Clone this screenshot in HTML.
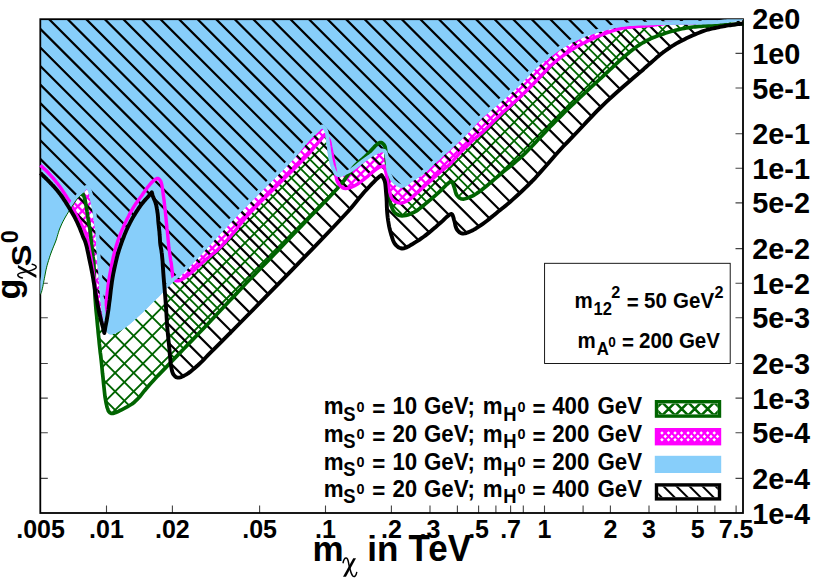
<!DOCTYPE html>
<html><head><meta charset="utf-8"><title>chart</title>
<style>html,body{margin:0;padding:0;background:#fff;}svg{display:block;}</style></head>
<body>
<svg width="830" height="581" viewBox="0 0 830 581" font-family="'Liberation Sans', sans-serif" font-weight="bold">
<rect x="0" y="0" width="830" height="581" fill="#fff"/>
<defs>
<clipPath id="cg"><polygon points="40.3,294.5 40.5,294.1 40.7,293.7 40.9,293.4 41.1,293.0 41.3,292.5 41.5,292.0 41.9,290.6 42.3,288.8 42.8,286.7 43.2,284.6 43.6,282.4 44.0,280.3 44.4,278.3 44.8,276.2 45.2,274.1 45.6,272.0 46.0,269.9 46.5,267.8 47.1,265.4 47.8,262.9 48.6,260.4 49.4,257.8 50.2,255.4 51.0,253.0 51.8,250.9 52.6,248.9 53.4,246.9 54.2,245.0 55.0,243.0 55.8,241.0 56.5,238.9 57.2,236.7 57.8,234.5 58.5,232.3 59.2,230.1 60.0,228.0 60.9,225.9 61.8,223.9 62.8,221.8 63.9,219.8 64.9,217.9 66.0,216.0 67.0,214.3 68.0,212.7 69.0,211.1 70.0,209.6 71.0,208.0 72.0,206.5 73.0,205.0 74.0,203.5 75.0,202.0 76.0,200.6 77.0,199.2 78.0,198.0 78.8,197.1 79.6,196.4 80.4,195.6 81.2,194.9 82.0,194.2 82.8,193.5 83.1,194.2 83.4,194.9 83.7,195.6 84.0,196.4 84.2,197.1 84.5,198.0 84.9,199.4 85.2,201.0 85.6,202.7 85.9,204.5 86.2,206.3 86.5,208.0 86.8,209.7 87.0,211.3 87.3,212.9 87.5,214.6 87.7,216.3 88.0,218.0 88.3,219.9 88.7,221.8 89.0,223.8 89.3,225.8 89.7,227.8 90.0,230.0 90.4,232.8 90.7,235.7 91.0,238.8 91.4,241.9 91.7,245.0 92.0,248.0 92.3,250.8 92.7,253.6 93.0,256.4 93.4,259.2 93.7,262.1 93.9,265.0 94.1,268.3 94.2,271.7 94.3,275.1 94.3,278.5 94.4,281.9 94.5,285.0 94.6,287.4 94.7,289.7 94.8,291.9 94.9,294.1 95.0,296.4 95.2,299.0 95.5,302.9 95.8,307.2 96.2,311.6 96.7,316.2 97.1,320.7 97.5,325.0 97.9,328.8 98.2,332.6 98.6,336.3 99.0,340.0 99.3,343.5 99.7,347.0 100.0,349.9 100.3,352.7 100.7,355.5 101.0,358.2 101.3,361.0 101.6,363.8 101.9,366.9 102.2,370.1 102.5,373.3 102.9,376.5 103.2,379.6 103.5,382.7 103.8,385.5 104.1,388.4 104.4,391.2 104.7,394.0 105.0,396.6 105.4,399.0 105.7,400.7 106.0,402.3 106.3,403.8 106.6,405.2 106.9,406.6 107.3,407.8 107.6,408.6 107.8,409.4 108.1,410.2 108.4,410.9 108.8,411.5 109.2,412.0 109.6,412.4 109.9,412.7 110.4,413.0 110.8,413.2 111.2,413.4 111.7,413.5 112.2,413.5 112.7,413.5 113.3,413.4 113.8,413.2 114.4,413.0 115.0,412.8 115.8,412.5 116.7,412.2 117.5,411.8 118.5,411.3 119.4,410.8 120.5,410.3 122.5,409.3 124.7,408.2 127.1,406.9 129.5,405.5 132.0,404.0 134.3,402.2 136.9,399.7 139.5,397.0 142.0,393.9 144.5,390.7 147.2,387.5 150.0,384.2 153.7,380.2 157.5,376.1 161.6,371.9 165.7,367.6 169.9,363.3 174.1,358.9 178.7,354.1 183.4,349.3 188.1,344.4 193.0,339.4 197.9,334.3 203.0,329.0 209.2,322.5 215.7,315.6 222.3,308.6 228.9,301.5 235.5,294.6 241.7,288.0 246.8,282.6 251.8,277.5 256.6,272.5 261.4,267.5 266.4,262.4 271.7,256.9 278.8,249.6 286.5,241.5 294.4,233.3 302.2,225.2 309.3,217.8 315.4,211.5 318.4,208.4 321.1,205.6 323.6,203.0 326.0,200.6 328.3,198.2 330.6,195.7 332.7,193.5 334.7,191.3 336.7,189.2 338.6,187.1 340.5,184.9 342.4,182.6 344.3,180.1 346.2,177.4 348.0,174.7 349.9,172.1 351.8,169.5 353.8,167.0 355.9,164.8 358.2,162.7 360.5,160.6 362.8,158.7 365.1,156.7 367.2,154.7 369.0,152.8 370.8,150.8 372.6,148.8 374.3,146.9 375.9,145.3 377.3,144.1 378.0,143.6 378.6,143.2 379.2,142.9 379.8,142.6 380.4,142.5 381.0,142.5 381.6,142.7 382.3,143.1 382.9,143.6 383.5,144.2 384.0,144.8 384.5,145.5 384.9,146.4 385.2,147.4 385.4,148.5 385.5,149.6 385.7,150.8 385.8,152.0 385.9,153.3 386.1,154.7 386.1,156.0 386.2,157.5 386.3,159.0 386.4,160.6 386.6,163.1 386.9,165.9 387.2,168.8 387.4,171.7 387.7,174.7 387.9,177.5 388.0,180.0 388.1,182.5 388.1,185.0 388.2,187.4 388.3,189.8 388.5,192.2 388.8,194.5 389.1,196.9 389.5,199.2 389.9,201.5 390.5,203.6 391.1,205.6 391.7,207.1 392.2,208.5 392.9,209.9 393.6,211.1 394.4,212.3 395.3,213.2 396.2,213.9 397.3,214.5 398.4,215.0 399.5,215.4 400.7,215.7 402.0,215.8 403.8,215.7 405.7,215.4 407.7,214.9 409.8,214.2 411.8,213.3 413.8,212.4 416.1,211.1 418.3,209.6 420.6,207.8 422.8,206.0 425.1,204.1 427.3,202.3 429.6,200.4 432.0,198.4 434.3,196.3 436.6,194.3 438.8,192.3 440.8,190.5 442.2,189.2 443.5,187.8 444.8,186.5 446.0,185.3 447.1,184.2 448.2,183.3 448.8,182.8 449.4,182.4 450.0,181.9 450.5,181.6 451.0,181.5 451.5,181.5 452.1,181.9 452.5,182.7 453.0,183.8 453.4,184.9 453.8,186.2 454.2,187.3 454.6,188.6 455.0,189.9 455.3,191.3 455.7,192.7 456.2,194.0 456.8,195.1 457.5,196.0 458.2,196.8 459.0,197.6 459.8,198.2 460.8,198.7 461.8,199.0 463.3,199.1 465.0,198.8 466.8,198.3 468.6,197.6 470.5,196.8 472.3,196.0 474.3,195.0 476.3,193.7 478.2,192.4 480.2,190.9 482.2,189.4 484.3,187.8 486.8,185.8 489.3,183.7 491.9,181.5 494.6,179.2 497.3,176.8 500.0,174.5 503.2,171.8 506.7,169.1 510.1,166.3 513.6,163.5 516.9,160.7 520.0,158.0 522.4,155.8 524.7,153.6 526.9,151.4 529.0,149.2 531.2,147.0 533.4,144.7 535.8,142.2 538.2,139.6 540.6,137.1 543.0,134.4 545.4,131.9 547.8,129.3 550.2,126.8 552.6,124.4 554.9,122.0 557.3,119.5 559.8,117.1 562.3,114.6 565.1,111.8 568.0,109.0 570.9,106.1 573.9,103.3 577.0,100.4 580.0,97.5 583.3,94.4 586.8,91.1 590.3,87.9 593.8,84.7 597.1,81.7 600.0,79.0 601.9,77.3 603.6,75.6 605.2,74.1 606.8,72.6 608.4,71.1 610.0,69.6 611.7,68.1 613.3,66.5 615.0,65.0 616.7,63.4 618.3,61.9 620.0,60.4 621.7,58.9 623.3,57.5 625.0,56.0 626.6,54.6 628.3,53.2 630.0,51.8 631.6,50.5 633.3,49.2 635.0,48.0 636.6,46.8 638.3,45.6 640.0,44.5 641.6,43.5 643.3,42.5 645.0,41.6 646.6,40.7 648.3,39.8 650.0,39.0 651.6,38.2 653.3,37.5 655.0,36.9 656.6,36.2 658.3,35.6 660.0,35.0 661.7,34.4 663.3,33.9 665.0,33.3 666.7,32.8 668.3,32.3 670.0,31.8 671.6,31.3 673.3,30.9 674.9,30.4 676.6,30.0 678.3,29.6 680.0,29.2 682.1,28.8 684.2,28.4 686.4,28.0 688.6,27.6 690.8,27.3 693.0,27.0 695.0,26.8 697.1,26.6 699.1,26.4 701.1,26.3 703.1,26.1 705.0,26.0 706.7,25.9 708.3,25.8 709.9,25.7 711.6,25.7 713.2,25.6 715.0,25.5 717.3,25.4 719.8,25.2 722.4,25.1 725.0,24.9 727.5,24.8 730.0,24.6 732.3,24.4 734.5,24.3 736.7,24.1 739.0,23.9 741.2,23.8 743.4,23.6 743.0,19.2 40.3,19.2"/></clipPath>
<clipPath id="cm"><polygon points="40.4,165.3 41.7,166.5 43.0,167.7 44.2,168.9 45.5,170.0 46.8,171.3 48.0,172.5 49.2,173.8 50.4,175.1 51.6,176.5 52.8,177.8 54.0,179.2 55.1,180.6 56.2,182.0 57.3,183.3 58.4,184.7 59.4,186.1 60.5,187.6 61.5,189.0 62.6,190.6 63.7,192.3 64.8,194.0 65.9,195.6 66.8,197.2 67.7,198.5 68.1,199.2 68.5,199.7 68.9,200.3 69.2,200.8 69.6,201.3 70.0,202.0 70.6,203.1 71.2,204.4 71.9,205.7 72.6,207.1 73.3,208.5 74.0,210.0 74.9,211.9 75.9,213.9 76.9,215.9 78.0,218.0 79.0,220.0 80.0,222.0 80.9,223.7 81.8,225.2 82.8,226.8 83.7,228.4 84.5,230.1 85.3,232.0 86.3,235.1 87.2,238.6 88.0,242.4 88.8,246.2 89.5,250.2 90.2,254.0 90.9,257.9 91.6,262.0 92.3,266.0 92.9,270.0 93.5,274.0 94.1,278.0 94.6,281.7 95.1,285.3 95.5,289.0 96.0,292.6 96.6,296.2 97.2,300.0 98.1,304.2 99.0,308.5 100.1,312.9 101.2,317.3 102.3,321.6 103.3,326.0 103.8,321.6 104.3,317.2 104.9,312.9 105.4,308.5 105.9,304.2 106.4,300.0 106.8,296.3 107.3,292.6 107.7,289.0 108.1,285.5 108.6,281.9 109.2,278.2 109.9,274.1 110.7,269.9 111.5,265.6 112.4,261.4 113.2,257.5 114.0,254.1 114.5,252.2 114.9,250.4 115.4,248.8 115.8,247.2 116.3,245.6 116.8,244.0 117.4,242.2 118.0,240.3 118.7,238.5 119.4,236.6 120.1,234.8 120.8,233.0 121.5,231.3 122.2,229.6 123.0,227.9 123.7,226.2 124.5,224.5 125.3,222.8 126.1,221.1 126.9,219.4 127.8,217.7 128.7,216.0 129.5,214.3 130.4,212.7 131.2,211.2 132.0,209.8 132.8,208.5 133.6,207.1 134.5,205.7 135.4,204.3 136.5,202.8 137.6,201.2 138.7,199.6 139.9,198.1 141.1,196.5 142.2,195.0 143.2,193.5 144.2,192.1 145.2,190.6 146.2,189.2 147.2,187.8 148.2,186.5 149.2,185.3 150.2,184.1 151.2,183.0 152.2,181.9 153.2,181.0 154.2,180.2 154.8,179.7 155.5,179.3 156.1,178.9 156.7,178.6 157.2,178.4 157.8,178.4 158.4,178.6 158.9,178.9 159.4,179.4 159.9,180.0 160.4,180.7 160.8,181.4 161.4,183.1 161.9,185.2 162.3,187.6 162.7,190.1 163.0,192.6 163.3,195.0 163.6,197.1 163.9,199.2 164.2,201.3 164.4,203.3 164.6,205.5 164.9,207.7 165.2,210.4 165.5,213.2 165.8,216.1 166.1,219.0 166.3,221.8 166.6,224.5 166.8,226.7 167.0,228.9 167.3,231.0 167.5,233.0 167.7,235.1 167.9,237.2 168.1,239.3 168.3,241.4 168.5,243.5 168.7,245.6 168.9,247.8 169.2,250.0 169.6,252.6 170.0,255.4 170.4,258.2 170.8,261.0 171.3,263.6 171.6,266.1 171.8,268.0 172.0,269.8 172.1,271.5 172.3,273.2 172.4,274.7 172.7,276.0 172.9,276.7 173.0,277.3 173.2,277.9 173.4,278.4 173.7,278.9 174.0,279.3 174.3,279.7 174.7,280.0 175.1,280.2 175.6,280.5 176.0,280.7 176.5,280.8 177.0,280.9 177.4,280.9 177.9,280.9 178.4,280.8 179.0,280.7 179.5,280.5 180.3,280.2 181.1,279.9 181.9,279.4 182.7,278.9 183.6,278.4 184.5,277.8 185.8,276.9 187.2,275.8 188.7,274.7 190.1,273.5 191.6,272.3 193.0,271.1 194.4,269.9 195.8,268.6 197.2,267.3 198.6,266.0 200.0,264.8 201.4,263.5 202.8,262.3 204.2,261.1 205.6,259.8 207.0,258.6 208.4,257.5 209.8,256.3 211.1,255.3 212.3,254.3 213.5,253.3 214.8,252.3 216.1,251.2 217.4,250.0 219.4,248.1 221.4,246.1 223.6,243.8 225.8,241.5 228.0,239.0 230.3,236.5 233.2,233.1 236.1,229.5 239.1,225.8 242.2,221.9 245.5,217.9 248.9,214.0 253.3,209.3 258.0,204.5 262.9,199.6 267.9,194.7 272.9,189.8 277.8,184.9 282.7,180.0 287.7,175.1 292.7,170.2 297.6,165.4 302.3,160.6 306.7,156.0 310.0,152.3 313.1,148.7 316.1,145.1 319.0,141.6 321.8,138.1 324.8,134.5 325.5,135.3 326.2,136.1 327.0,136.8 327.7,137.6 328.3,138.5 328.9,139.5 329.5,141.0 330.0,142.7 330.3,144.5 330.6,146.3 331.0,148.2 331.3,150.0 331.7,151.7 332.0,153.3 332.3,155.0 332.7,156.7 333.0,158.3 333.3,160.0 333.6,161.7 333.9,163.3 334.2,164.9 334.5,166.6 334.9,168.3 335.2,170.0 335.5,172.0 335.8,174.1 336.0,176.2 336.4,178.3 336.9,180.3 337.6,182.0 338.4,183.4 339.4,184.7 340.4,186.0 341.6,187.0 342.8,187.9 344.1,188.4 345.6,188.6 347.3,188.4 349.0,188.0 350.8,187.4 352.5,186.6 354.2,185.9 355.9,185.0 357.6,184.0 359.3,182.8 361.0,181.6 362.6,180.4 364.3,179.1 366.0,177.7 367.8,176.3 369.5,174.8 371.2,173.3 372.9,171.9 374.4,170.7 375.4,169.9 376.4,169.2 377.4,168.5 378.3,167.9 379.2,167.3 380.1,166.9 380.8,166.6 381.5,166.5 382.2,166.3 382.9,166.2 383.6,166.1 384.3,166.0 384.7,167.8 385.2,169.6 385.6,171.4 386.1,173.2 386.5,175.1 386.9,177.0 387.3,179.2 387.7,181.5 388.1,183.8 388.5,186.2 388.9,188.4 389.4,190.5 389.8,192.2 390.3,193.9 390.7,195.6 391.3,197.1 391.9,198.5 392.8,199.7 393.8,200.6 394.9,201.4 396.2,202.1 397.5,202.6 398.8,202.9 400.1,203.1 401.4,203.0 402.6,202.8 403.9,202.4 405.2,201.8 406.4,201.2 407.7,200.5 409.1,199.6 410.5,198.6 411.9,197.4 413.3,196.2 414.7,194.9 416.1,193.7 417.5,192.5 418.9,191.2 420.3,189.9 421.7,188.6 423.1,187.4 424.5,186.1 425.9,184.8 427.3,183.6 428.8,182.3 430.2,181.1 431.6,179.9 433.0,178.6 434.4,177.3 435.8,176.1 437.2,174.8 438.6,173.5 440.0,172.2 441.4,171.0 442.8,169.9 444.2,168.8 445.6,167.7 447.0,166.6 448.4,165.5 449.8,164.2 451.5,162.5 453.2,160.6 454.9,158.7 456.6,156.7 458.4,154.7 460.2,152.7 462.1,150.7 464.1,148.7 466.2,146.7 468.2,144.7 470.2,142.7 472.3,140.8 474.3,139.0 476.2,137.4 478.2,135.7 480.2,134.1 482.2,132.4 484.3,130.5 486.8,128.1 489.3,125.6 491.9,123.0 494.5,120.4 497.2,117.7 500.0,115.0 503.2,112.1 506.5,109.1 509.9,106.2 513.3,103.1 516.7,100.1 520.0,97.0 523.4,93.7 527.0,90.2 530.5,86.7 533.9,83.3 537.1,80.0 540.0,77.0 541.9,75.0 543.6,73.2 545.2,71.5 546.8,69.8 548.3,68.1 550.0,66.5 551.6,65.0 553.3,63.5 554.9,62.1 556.6,60.7 558.3,59.3 560.0,58.0 561.6,56.8 563.3,55.5 565.0,54.4 566.6,53.2 568.3,52.1 570.0,51.0 571.7,49.9 573.3,48.9 575.0,47.9 576.6,46.9 578.3,45.9 580.0,45.0 581.7,44.1 583.3,43.3 585.0,42.4 586.7,41.6 588.3,40.8 590.0,40.0 591.7,39.2 593.3,38.4 595.0,37.7 596.7,36.9 598.3,36.2 600.0,35.5 601.7,34.8 603.3,34.2 605.0,33.6 606.7,33.0 608.3,32.4 610.0,31.8 611.7,31.2 613.3,30.7 615.0,30.2 616.7,29.7 618.3,29.2 620.0,28.8 621.7,28.4 623.3,28.1 625.0,27.9 626.7,27.6 628.3,27.4 630.0,27.2 631.7,27.0 633.3,26.8 635.0,26.7 636.7,26.6 638.3,26.4 640.0,26.3 641.7,26.2 643.3,26.1 645.0,26.0 646.7,25.9 648.3,25.8 650.0,25.6 651.7,25.4 653.3,25.2 655.0,24.9 656.7,24.7 658.3,24.4 660.0,24.2 661.6,24.0 663.2,23.8 664.7,23.5 666.4,23.3 668.1,23.2 670.0,23.0 673.3,22.8 677.0,22.8 680.9,22.8 685.0,22.8 689.1,22.7 693.0,22.7 696.8,22.6 700.7,22.6 704.6,22.5 708.3,22.4 711.8,22.3 715.0,22.1 716.9,22.0 718.6,21.8 720.2,21.6 721.8,21.5 723.4,21.3 725.0,21.1 726.7,20.9 728.4,20.7 730.1,20.4 731.7,20.2 733.4,20.0 735.0,19.8 736.4,19.7 737.9,19.6 739.2,19.5 740.6,19.4 742.0,19.4 743.4,19.3 743.0,19.2 40.3,19.2"/></clipPath>
<clipPath id="cb"><polygon points="40.3,294.5 40.5,294.1 40.7,293.7 40.9,293.4 41.1,293.0 41.3,292.5 41.5,292.0 41.9,290.6 42.3,288.8 42.8,286.7 43.2,284.6 43.6,282.4 44.0,280.3 44.4,278.3 44.8,276.2 45.2,274.1 45.6,272.0 46.0,269.9 46.5,267.8 47.1,265.4 47.8,262.9 48.6,260.4 49.4,257.8 50.2,255.4 51.0,253.0 51.8,250.9 52.6,248.9 53.4,246.9 54.2,245.0 55.0,243.0 55.8,241.0 56.5,238.9 57.2,236.7 57.8,234.5 58.5,232.3 59.2,230.1 60.0,228.0 60.9,225.9 61.8,223.9 62.8,221.8 63.9,219.8 64.9,217.9 66.0,216.0 67.0,214.3 68.0,212.7 69.0,211.1 70.0,209.6 71.0,208.0 72.0,206.5 73.0,205.0 74.0,203.5 75.0,202.0 76.0,200.6 77.0,199.2 78.0,198.0 78.8,197.1 79.6,196.4 80.5,195.6 81.3,194.9 82.1,194.2 82.8,193.5 83.5,192.8 84.1,192.0 84.7,191.3 85.3,190.5 85.9,189.8 86.5,189.0 86.8,189.3 87.0,189.6 87.3,189.9 87.5,190.2 87.8,190.6 88.0,191.0 88.4,192.0 88.7,193.2 89.1,194.6 89.4,196.1 89.7,197.5 90.0,199.0 90.4,200.6 90.7,202.2 91.0,203.9 91.4,205.6 91.7,207.3 92.0,209.0 92.3,210.7 92.5,212.3 92.8,214.0 93.0,215.6 93.2,217.3 93.5,219.0 93.8,220.8 94.1,222.5 94.4,224.2 94.7,226.0 94.9,227.9 95.2,230.0 95.5,233.5 95.8,237.3 96.0,241.4 96.2,245.7 96.4,249.9 96.7,254.0 97.0,258.0 97.3,262.0 97.6,266.1 98.0,270.1 98.3,274.1 98.6,278.0 98.9,281.7 99.2,285.4 99.4,289.1 99.7,292.8 100.0,296.4 100.4,300.0 100.8,303.5 101.1,307.0 101.5,310.4 102.0,313.8 102.5,317.0 103.0,320.0 103.4,322.1 103.8,324.2 104.2,326.2 104.7,328.0 105.3,329.6 106.0,331.0 106.6,331.8 107.3,332.6 108.0,333.3 108.8,333.9 109.6,334.3 110.5,334.5 111.9,334.5 113.4,334.1 115.0,333.5 116.7,332.7 118.4,331.8 120.0,331.0 121.7,330.0 123.4,329.0 125.1,327.8 126.7,326.6 128.4,325.3 130.0,324.0 131.7,322.6 133.4,321.1 135.0,319.6 136.7,318.1 138.3,316.6 140.0,315.0 141.7,313.4 143.3,311.9 144.9,310.3 146.6,308.7 148.3,307.0 150.0,305.3 152.0,303.3 154.2,301.2 156.3,299.1 158.5,296.9 160.7,294.7 162.8,292.6 165.0,290.4 167.2,288.1 169.5,285.8 171.6,283.6 173.6,281.6 175.4,280.0 176.2,279.3 176.9,278.9 177.5,278.5 178.2,278.0 179.0,277.4 180.0,276.6 186.3,270.4 195.7,260.6 206.9,248.5 218.6,235.8 229.7,223.9 238.8,214.3 243.5,209.5 247.7,205.2 251.6,201.3 255.4,197.5 259.3,193.6 263.4,189.5 268.2,184.8 273.2,179.9 278.2,174.9 283.2,170.0 287.9,165.2 292.3,160.6 295.7,156.8 299.0,152.9 302.1,149.1 305.1,145.5 307.7,142.4 310.0,139.8 311.0,138.8 311.8,137.9 312.6,137.2 313.4,136.5 314.2,135.8 315.0,135.0 316.0,134.0 317.1,133.0 318.2,131.9 319.3,130.9 320.2,130.0 321.0,129.3 321.3,129.1 321.5,128.9 321.7,128.7 321.9,128.6 322.1,128.5 322.3,128.3 322.7,128.8 323.1,129.4 323.5,129.9 323.9,130.4 324.2,130.9 324.5,131.5 324.7,132.0 324.9,132.6 325.0,133.1 325.1,133.7 325.2,134.3 325.3,135.0 325.5,136.4 325.7,137.9 325.9,139.6 326.1,141.4 326.4,143.2 326.6,145.0 326.9,147.1 327.2,149.3 327.4,151.5 327.8,153.7 328.1,155.9 328.5,158.0 328.9,159.9 329.3,161.7 329.7,163.5 330.2,165.3 330.7,166.9 331.3,168.5 331.8,169.7 332.3,171.0 332.9,172.1 333.4,173.2 334.1,174.2 334.8,175.0 335.4,175.5 336.0,176.0 336.7,176.4 337.4,176.7 338.2,176.9 339.0,177.0 340.6,176.8 342.5,176.3 344.5,175.6 346.6,174.6 348.8,173.5 350.8,172.4 353.1,171.0 355.4,169.3 357.7,167.5 359.9,165.7 362.2,163.9 364.3,162.3 366.1,161.0 367.8,159.8 369.4,158.6 371.1,157.5 372.7,156.4 374.4,155.5 375.9,154.7 377.5,153.9 379.1,153.1 380.6,152.5 381.9,152.2 382.9,152.2 383.3,152.4 383.5,152.6 383.8,153.0 383.9,153.3 384.1,153.8 384.3,154.2 384.6,155.0 384.8,156.0 384.9,157.0 385.1,158.2 385.2,159.4 385.4,160.6 385.6,162.3 385.8,164.2 385.9,166.1 386.1,168.1 386.4,170.0 386.9,171.9 387.5,173.7 388.1,175.5 388.9,177.3 389.7,179.0 390.7,180.6 391.9,182.0 393.3,183.4 394.9,184.7 396.6,186.0 398.5,187.0 400.3,187.7 402.0,187.9 403.7,187.6 405.3,186.8 407.0,185.7 408.6,184.4 410.3,183.0 412.0,181.8 414.0,180.5 416.0,179.2 418.0,177.8 420.1,176.4 422.1,174.9 424.1,173.4 426.1,171.7 428.1,169.9 430.1,168.1 432.1,166.2 434.1,164.3 436.1,162.5 438.1,160.7 440.1,158.9 442.1,157.1 444.2,155.3 446.2,153.5 448.2,151.7 450.2,149.9 452.2,148.1 454.3,146.3 456.3,144.5 458.2,142.6 460.2,140.8 462.1,139.0 463.9,137.2 465.8,135.4 467.6,133.6 469.4,131.8 471.1,130.0 472.6,128.4 474.0,126.8 475.4,125.2 476.8,123.6 478.3,121.9 480.0,120.2 482.8,117.6 486.0,114.8 489.5,111.9 493.0,108.9 496.6,105.9 500.0,103.0 503.4,100.0 507.0,96.9 510.5,93.8 513.9,90.7 517.1,87.8 520.0,85.0 521.9,83.1 523.6,81.3 525.2,79.6 526.8,77.9 528.4,76.2 530.0,74.5 531.6,72.9 533.3,71.2 535.0,69.6 536.6,68.0 538.3,66.5 540.0,65.0 541.6,63.6 543.3,62.3 545.0,61.0 546.6,59.8 548.3,58.5 550.0,57.3 551.7,56.1 553.3,54.8 555.0,53.6 556.6,52.3 558.3,51.1 560.0,50.0 561.6,48.9 563.3,47.9 565.0,46.9 566.6,45.9 568.3,44.9 570.0,44.0 571.7,43.1 573.3,42.2 575.0,41.4 576.6,40.6 578.3,39.8 580.0,39.0 581.7,38.3 583.3,37.6 585.0,36.9 586.6,36.2 588.3,35.6 590.0,35.0 591.7,34.4 593.3,33.9 595.0,33.4 596.7,33.0 598.3,32.5 600.0,32.0 601.7,31.5 603.3,31.0 605.0,30.5 606.7,30.1 608.3,29.6 610.0,29.2 611.7,28.8 613.3,28.4 615.0,28.1 616.7,27.8 618.3,27.5 620.0,27.2 621.6,27.0 623.2,26.8 624.8,26.6 626.4,26.4 628.1,26.2 630.0,26.1 632.9,25.9 636.2,25.8 639.6,25.6 643.1,25.5 646.6,25.4 650.0,25.3 653.3,25.2 656.6,25.1 659.9,25.1 663.2,25.0 666.6,25.0 670.0,24.9 673.7,24.8 677.6,24.8 681.4,24.8 685.3,24.7 689.2,24.7 693.0,24.6 696.8,24.5 700.7,24.5 704.6,24.4 708.3,24.3 711.8,24.2 715.0,24.0 716.9,23.9 718.6,23.7 720.2,23.6 721.8,23.4 723.4,23.2 725.0,23.0 726.7,22.8 728.4,22.5 730.1,22.3 731.7,22.0 733.4,21.8 735.0,21.5 736.4,21.3 737.9,21.0 739.2,20.8 740.6,20.5 742.0,20.3 743.4,20.0 743.0,19.2 40.3,19.2"/></clipPath>
<clipPath id="ck"><polygon points="40.4,173.0 41.7,174.2 42.9,175.5 44.2,176.7 45.5,178.0 46.8,179.2 48.0,180.5 49.2,181.7 50.4,183.0 51.6,184.2 52.8,185.5 54.0,186.7 55.1,188.0 56.2,189.3 57.3,190.6 58.4,191.9 59.4,193.2 60.5,194.6 61.5,196.0 62.6,197.5 63.6,199.1 64.6,200.6 65.7,202.2 66.7,203.9 67.7,205.5 68.8,207.2 69.9,209.1 71.0,210.9 72.1,212.7 73.1,214.4 74.0,216.0 74.6,217.1 75.1,218.1 75.6,219.0 76.0,220.0 76.5,221.0 77.0,222.0 77.6,223.3 78.2,224.6 78.8,226.0 79.4,227.3 80.0,228.7 80.5,230.0 80.9,231.1 81.4,232.2 81.8,233.3 82.2,234.4 82.6,235.4 83.0,236.5 83.4,237.5 83.8,238.4 84.3,239.4 84.7,240.3 85.1,241.4 85.5,242.5 86.0,244.2 86.5,246.1 87.0,248.0 87.4,250.1 87.9,252.3 88.4,254.6 89.1,258.1 89.9,261.9 90.8,266.0 91.6,270.1 92.4,274.2 93.1,278.2 93.7,281.9 94.4,285.7 94.9,289.4 95.5,293.1 96.1,296.6 96.7,300.0 97.2,302.7 97.7,305.2 98.2,307.6 98.7,310.0 99.2,312.5 99.8,315.0 100.5,317.9 101.2,320.9 102.0,323.9 102.8,326.9 103.5,330.0 104.3,333.0 104.9,330.0 105.4,326.9 106.0,323.9 106.6,320.9 107.1,317.9 107.6,315.0 108.0,312.5 108.4,310.0 108.7,307.6 109.0,305.2 109.3,302.6 109.7,300.0 110.1,296.6 110.5,293.1 110.9,289.4 111.4,285.7 111.9,281.9 112.5,278.2 113.2,274.1 114.1,269.9 115.0,265.6 116.0,261.4 116.9,257.5 117.8,254.1 118.4,252.2 118.9,250.4 119.4,248.8 120.0,247.2 120.5,245.7 121.1,244.0 121.7,242.2 122.4,240.4 123.1,238.5 123.8,236.7 124.5,234.8 125.3,233.0 126.1,231.1 126.9,229.3 127.7,227.4 128.6,225.6 129.5,223.8 130.4,222.0 131.3,220.3 132.3,218.5 133.3,216.8 134.3,215.2 135.3,213.5 136.3,211.9 137.3,210.4 138.2,208.9 139.2,207.5 140.2,206.1 141.2,204.7 142.2,203.4 143.2,202.2 144.2,201.0 145.2,199.9 146.2,198.8 147.2,197.7 148.1,196.7 148.8,195.9 149.4,195.2 150.0,194.4 150.6,193.7 151.2,193.0 151.8,192.3 152.0,193.0 152.2,193.7 152.4,194.4 152.6,195.2 152.8,195.9 153.1,196.7 153.5,197.7 153.9,198.8 154.4,199.9 154.9,201.0 155.3,202.2 155.7,203.4 156.1,204.7 156.4,206.1 156.7,207.5 156.9,208.9 157.2,210.4 157.4,211.9 157.7,213.9 157.9,216.0 158.1,218.2 158.2,220.4 158.4,222.5 158.6,224.5 158.8,226.0 158.9,227.4 159.1,228.8 159.2,230.1 159.4,231.5 159.5,233.0 159.6,234.8 159.8,236.6 159.9,238.4 160.0,240.3 160.1,242.2 160.3,244.0 160.5,245.7 160.8,247.2 161.1,248.8 161.4,250.4 161.6,252.2 161.9,254.1 162.2,257.5 162.6,261.4 162.8,265.6 163.1,269.9 163.4,274.1 163.7,278.2 164.0,281.9 164.3,285.4 164.6,289.0 164.9,292.5 165.2,296.2 165.5,300.0 165.8,304.8 166.2,309.9 166.5,315.2 166.8,320.4 167.1,325.4 167.5,330.0 167.8,333.3 168.1,336.4 168.4,339.3 168.7,342.2 169.0,345.1 169.3,348.1 169.6,351.2 169.8,354.4 170.1,357.5 170.4,360.6 170.7,363.5 171.1,366.1 171.4,367.8 171.7,369.4 172.0,370.9 172.4,372.3 172.9,373.5 173.5,374.6 174.1,375.3 174.7,376.0 175.4,376.6 176.1,377.1 176.9,377.4 177.7,377.6 178.9,377.6 180.2,377.3 181.7,376.8 183.1,376.2 184.6,375.4 186.1,374.6 188.1,373.4 190.1,371.9 192.1,370.3 194.2,368.6 196.2,366.8 198.2,365.0 200.2,363.1 202.3,361.1 204.2,359.1 206.2,357.0 208.2,354.9 210.2,352.9 212.2,350.9 214.3,348.8 216.3,346.8 218.3,344.8 220.3,342.8 222.3,340.8 224.0,339.1 225.5,337.6 227.0,336.1 228.7,334.4 230.7,332.5 233.1,330.0 246.4,316.5 266.1,296.4 289.2,272.8 312.5,248.8 333.0,227.5 347.5,212.0 351.3,207.7 354.4,204.0 357.0,200.8 359.4,197.8 361.8,194.9 364.3,192.0 366.7,189.4 369.2,186.7 371.6,184.1 373.9,181.8 376.0,179.7 377.8,178.0 378.5,177.3 379.2,176.8 379.8,176.3 380.3,175.9 380.9,175.5 381.5,175.0 382.0,175.9 382.6,176.8 383.2,177.7 383.7,178.6 384.2,179.7 384.6,180.8 385.1,182.7 385.4,184.7 385.6,186.9 385.8,189.3 386.0,191.8 386.2,194.3 386.5,197.8 386.7,201.7 386.8,205.8 387.0,209.8 387.3,213.8 387.7,217.5 388.1,220.5 388.6,223.5 389.1,226.4 389.7,229.1 390.4,231.8 391.1,234.3 391.7,236.2 392.3,238.1 392.9,239.9 393.6,241.6 394.4,243.1 395.3,244.4 396.2,245.4 397.2,246.3 398.3,247.2 399.4,247.8 400.7,248.3 402.0,248.5 404.2,248.2 406.7,247.3 409.4,245.9 412.1,244.3 414.7,242.6 417.2,241.1 419.3,239.8 421.3,238.4 423.3,237.0 425.2,235.6 427.1,234.1 429.0,232.6 431.0,231.0 433.0,229.3 435.1,227.6 437.0,225.8 439.0,224.1 440.8,222.5 442.4,221.1 443.9,219.6 445.4,218.1 446.9,216.8 448.2,215.7 449.3,214.9 449.8,214.6 450.2,214.4 450.7,214.2 451.1,214.0 451.4,214.0 451.8,214.1 452.3,214.6 452.8,215.6 453.2,216.8 453.6,218.1 453.9,219.5 454.3,220.8 454.7,222.2 455.0,223.7 455.3,225.2 455.7,226.7 456.2,228.1 456.8,229.3 457.5,230.2 458.2,231.1 459.0,231.9 459.9,232.6 460.9,233.2 461.9,233.5 463.2,233.6 464.7,233.4 466.3,233.0 467.9,232.4 469.6,231.7 471.2,231.0 473.4,229.9 475.6,228.7 477.9,227.2 480.2,225.7 482.5,224.1 484.7,222.5 487.0,220.8 489.3,219.0 491.5,217.1 493.8,215.3 496.0,213.4 498.2,211.6 500.2,210.0 502.1,208.5 504.0,207.0 505.9,205.4 507.9,203.8 510.0,202.0 512.9,199.4 516.1,196.5 519.4,193.5 522.6,190.5 525.6,187.6 528.3,185.0 529.9,183.4 531.3,182.0 532.6,180.7 533.9,179.3 535.4,177.8 537.0,176.0 540.2,172.4 543.9,168.2 547.9,163.7 552.0,158.9 556.1,154.3 560.0,150.0 563.4,146.3 566.7,142.8 570.1,139.3 573.4,135.9 576.7,132.5 580.0,129.0 583.3,125.5 586.6,121.9 590.0,118.4 593.3,114.9 596.6,111.4 600.0,108.0 603.3,104.8 606.6,101.7 609.9,98.6 613.3,95.5 616.6,92.5 620.0,89.5 623.4,86.5 626.9,83.5 630.4,80.5 633.8,77.6 637.1,74.8 640.0,72.3 641.9,70.7 643.6,69.2 645.2,67.7 646.8,66.3 648.4,64.9 650.0,63.5 651.7,62.0 653.3,60.6 655.0,59.1 656.6,57.6 658.3,56.2 660.0,54.8 661.6,53.5 663.3,52.2 665.0,51.0 666.6,49.8 668.3,48.6 670.0,47.5 671.6,46.4 673.3,45.4 674.9,44.4 676.5,43.4 678.2,42.5 680.0,41.5 682.1,40.4 684.2,39.4 686.4,38.3 688.6,37.3 690.8,36.3 693.0,35.3 695.0,34.4 697.1,33.5 699.1,32.7 701.1,31.9 703.1,31.2 705.0,30.5 706.7,30.0 708.4,29.5 710.0,29.1 711.7,28.7 713.3,28.4 715.0,28.0 716.7,27.6 718.3,27.3 720.0,26.9 721.7,26.6 723.3,26.3 725.0,26.0 726.7,25.7 728.4,25.4 730.1,25.2 731.7,25.0 733.4,24.7 735.0,24.5 736.4,24.3 737.9,24.1 739.2,24.0 740.6,23.8 742.0,23.7 743.4,23.5 743.0,19.2 40.3,19.2"/></clipPath>
</defs>
<path d="M106.5 513.0V505.5M172.4 513.0V505.5M259.6 513.0V505.5M325.5 513.0V505.5M391.4 513.0V505.5M430.0 513.0V505.5M457.4 513.0V505.5M478.6 513.0V505.5M495.9 513.0V505.5M510.6 513.0V505.5M523.3 513.0V505.5M544.5 513.0V505.5M583.1 513.0V505.5M610.4 513.0V505.5M649.0 513.0V505.5M676.4 513.0V505.5M697.6 513.0V505.5M714.9 513.0V505.5M736.1 513.0V505.5M40.3 53.4H47.8M743.0 53.4H735.5M40.3 88.0H47.8M743.0 88.0H735.5M40.3 133.7H47.8M743.0 133.7H735.5M40.3 168.3H47.8M743.0 168.3H735.5M40.3 202.9H47.8M743.0 202.9H735.5M40.3 248.6H47.8M743.0 248.6H735.5M40.3 283.2H47.8M743.0 283.2H735.5M40.3 317.8H47.8M743.0 317.8H735.5M40.3 363.5H47.8M743.0 363.5H735.5M40.3 398.1H47.8M743.0 398.1H735.5M40.3 432.7H47.8M743.0 432.7H735.5M40.3 478.4H47.8M743.0 478.4H735.5" stroke="#444" stroke-width="1.1" fill="none"/>
<g clip-path="url(#cg)">
<rect x="40.3" y="19.2" width="702.7" height="493.8" fill="#fff"/>
<path d="M-479.86 19.20L13.94 513.00M-461.30 19.20L32.50 513.00M-442.74 19.20L51.06 513.00M-424.18 19.20L69.62 513.00M-405.62 19.20L88.18 513.00M-387.06 19.20L106.74 513.00M-368.50 19.20L125.30 513.00M-349.94 19.20L143.86 513.00M-331.38 19.20L162.42 513.00M-312.82 19.20L180.98 513.00M-294.26 19.20L199.54 513.00M-275.70 19.20L218.10 513.00M-257.14 19.20L236.66 513.00M-238.58 19.20L255.22 513.00M-220.02 19.20L273.78 513.00M-201.46 19.20L292.34 513.00M-182.90 19.20L310.90 513.00M-164.34 19.20L329.46 513.00M-145.78 19.20L348.02 513.00M-127.22 19.20L366.58 513.00M-108.66 19.20L385.14 513.00M-90.10 19.20L403.70 513.00M-71.54 19.20L422.26 513.00M-52.98 19.20L440.82 513.00M-34.42 19.20L459.38 513.00M-15.86 19.20L477.94 513.00M2.70 19.20L496.50 513.00M21.26 19.20L515.06 513.00M39.82 19.20L533.62 513.00M58.38 19.20L552.18 513.00M76.94 19.20L570.74 513.00M95.50 19.20L589.30 513.00M114.06 19.20L607.86 513.00M132.62 19.20L626.42 513.00M151.18 19.20L644.98 513.00M169.74 19.20L663.54 513.00M188.30 19.20L682.10 513.00M206.86 19.20L700.66 513.00M225.42 19.20L719.22 513.00M243.98 19.20L737.78 513.00M262.54 19.20L756.34 513.00M281.10 19.20L774.90 513.00M299.66 19.20L793.46 513.00M318.22 19.20L812.02 513.00M336.78 19.20L830.58 513.00M355.34 19.20L849.14 513.00M373.90 19.20L867.70 513.00M392.46 19.20L886.26 513.00M411.02 19.20L904.82 513.00M429.58 19.20L923.38 513.00M448.14 19.20L941.94 513.00M466.70 19.20L960.50 513.00M485.26 19.20L979.06 513.00M503.82 19.20L997.62 513.00M522.38 19.20L1016.18 513.00M540.94 19.20L1034.74 513.00M559.50 19.20L1053.30 513.00M578.06 19.20L1071.86 513.00M596.62 19.20L1090.42 513.00M615.18 19.20L1108.98 513.00M633.74 19.20L1127.54 513.00M652.30 19.20L1146.10 513.00M670.86 19.20L1164.66 513.00M689.42 19.20L1183.22 513.00M707.98 19.20L1201.78 513.00M726.54 19.20L1220.34 513.00M745.10 19.20L1238.90 513.00M763.66 19.20L1257.46 513.00" stroke="#006400" stroke-width="1.85" fill="none"/>
<path d="M4.80 19.20L-489.00 513.00M23.36 19.20L-470.44 513.00M41.92 19.20L-451.88 513.00M60.48 19.20L-433.32 513.00M79.04 19.20L-414.76 513.00M97.60 19.20L-396.20 513.00M116.16 19.20L-377.64 513.00M134.72 19.20L-359.08 513.00M153.28 19.20L-340.52 513.00M171.84 19.20L-321.96 513.00M190.40 19.20L-303.40 513.00M208.96 19.20L-284.84 513.00M227.52 19.20L-266.28 513.00M246.08 19.20L-247.72 513.00M264.64 19.20L-229.16 513.00M283.20 19.20L-210.60 513.00M301.76 19.20L-192.04 513.00M320.32 19.20L-173.48 513.00M338.88 19.20L-154.92 513.00M357.44 19.20L-136.36 513.00M376.00 19.20L-117.80 513.00M394.56 19.20L-99.24 513.00M413.12 19.20L-80.68 513.00M431.68 19.20L-62.12 513.00M450.24 19.20L-43.56 513.00M468.80 19.20L-25.00 513.00M487.36 19.20L-6.44 513.00M505.92 19.20L12.12 513.00M524.48 19.20L30.68 513.00M543.04 19.20L49.24 513.00M561.60 19.20L67.80 513.00M580.16 19.20L86.36 513.00M598.72 19.20L104.92 513.00M617.28 19.20L123.48 513.00M635.84 19.20L142.04 513.00M654.40 19.20L160.60 513.00M672.96 19.20L179.16 513.00M691.52 19.20L197.72 513.00M710.08 19.20L216.28 513.00M728.64 19.20L234.84 513.00M747.20 19.20L253.40 513.00M765.76 19.20L271.96 513.00M784.32 19.20L290.52 513.00M802.88 19.20L309.08 513.00M821.44 19.20L327.64 513.00M840.00 19.20L346.20 513.00M858.56 19.20L364.76 513.00M877.12 19.20L383.32 513.00M895.68 19.20L401.88 513.00M914.24 19.20L420.44 513.00M932.80 19.20L439.00 513.00M951.36 19.20L457.56 513.00M969.92 19.20L476.12 513.00M988.48 19.20L494.68 513.00M1007.04 19.20L513.24 513.00M1025.60 19.20L531.80 513.00M1044.16 19.20L550.36 513.00M1062.72 19.20L568.92 513.00M1081.28 19.20L587.48 513.00M1099.84 19.20L606.04 513.00M1118.40 19.20L624.60 513.00M1136.96 19.20L643.16 513.00M1155.52 19.20L661.72 513.00M1174.08 19.20L680.28 513.00M1192.64 19.20L698.84 513.00M1211.20 19.20L717.40 513.00M1229.76 19.20L735.96 513.00M1248.32 19.20L754.52 513.00M1266.88 19.20L773.08 513.00" stroke="#006400" stroke-width="1.85" fill="none"/>
</g>
<g clip-path="url(#cm)">
<rect x="40.3" y="19.2" width="702.7" height="493.8" fill="#fff"/>
<path d="M-471.46 19.20L22.34 513.00M-462.18 19.20L31.62 513.00M-452.90 19.20L40.90 513.00M-443.62 19.20L50.18 513.00M-434.34 19.20L59.46 513.00M-425.06 19.20L68.74 513.00M-415.78 19.20L78.02 513.00M-406.50 19.20L87.30 513.00M-397.22 19.20L96.58 513.00M-387.94 19.20L105.86 513.00M-378.66 19.20L115.14 513.00M-369.38 19.20L124.42 513.00M-360.10 19.20L133.70 513.00M-350.82 19.20L142.98 513.00M-341.54 19.20L152.26 513.00M-332.26 19.20L161.54 513.00M-322.98 19.20L170.82 513.00M-313.70 19.20L180.10 513.00M-304.42 19.20L189.38 513.00M-295.14 19.20L198.66 513.00M-285.86 19.20L207.94 513.00M-276.58 19.20L217.22 513.00M-267.30 19.20L226.50 513.00M-258.02 19.20L235.78 513.00M-248.74 19.20L245.06 513.00M-239.46 19.20L254.34 513.00M-230.18 19.20L263.62 513.00M-220.90 19.20L272.90 513.00M-211.62 19.20L282.18 513.00M-202.34 19.20L291.46 513.00M-193.06 19.20L300.74 513.00M-183.78 19.20L310.02 513.00M-174.50 19.20L319.30 513.00M-165.22 19.20L328.58 513.00M-155.94 19.20L337.86 513.00M-146.66 19.20L347.14 513.00M-137.38 19.20L356.42 513.00M-128.10 19.20L365.70 513.00M-118.82 19.20L374.98 513.00M-109.54 19.20L384.26 513.00M-100.26 19.20L393.54 513.00M-90.98 19.20L402.82 513.00M-81.70 19.20L412.10 513.00M-72.42 19.20L421.38 513.00M-63.14 19.20L430.66 513.00M-53.86 19.20L439.94 513.00M-44.58 19.20L449.22 513.00M-35.30 19.20L458.50 513.00M-26.02 19.20L467.78 513.00M-16.74 19.20L477.06 513.00M-7.46 19.20L486.34 513.00M1.82 19.20L495.62 513.00M11.10 19.20L504.90 513.00M20.38 19.20L514.18 513.00M29.66 19.20L523.46 513.00M38.94 19.20L532.74 513.00M48.22 19.20L542.02 513.00M57.50 19.20L551.30 513.00M66.78 19.20L560.58 513.00M76.06 19.20L569.86 513.00M85.34 19.20L579.14 513.00M94.62 19.20L588.42 513.00M103.90 19.20L597.70 513.00M113.18 19.20L606.98 513.00M122.46 19.20L616.26 513.00M131.74 19.20L625.54 513.00M141.02 19.20L634.82 513.00M150.30 19.20L644.10 513.00M159.58 19.20L653.38 513.00M168.86 19.20L662.66 513.00M178.14 19.20L671.94 513.00M187.42 19.20L681.22 513.00M196.70 19.20L690.50 513.00M205.98 19.20L699.78 513.00M215.26 19.20L709.06 513.00M224.54 19.20L718.34 513.00M233.82 19.20L727.62 513.00M243.10 19.20L736.90 513.00M252.38 19.20L746.18 513.00M261.66 19.20L755.46 513.00M270.94 19.20L764.74 513.00M280.22 19.20L774.02 513.00M289.50 19.20L783.30 513.00M298.78 19.20L792.58 513.00M308.06 19.20L801.86 513.00M317.34 19.20L811.14 513.00M326.62 19.20L820.42 513.00M335.90 19.20L829.70 513.00M345.18 19.20L838.98 513.00M354.46 19.20L848.26 513.00M363.74 19.20L857.54 513.00M373.02 19.20L866.82 513.00M382.30 19.20L876.10 513.00M391.58 19.20L885.38 513.00M400.86 19.20L894.66 513.00M410.14 19.20L903.94 513.00M419.42 19.20L913.22 513.00M428.70 19.20L922.50 513.00M437.98 19.20L931.78 513.00M447.26 19.20L941.06 513.00M456.54 19.20L950.34 513.00M465.82 19.20L959.62 513.00M475.10 19.20L968.90 513.00M484.38 19.20L978.18 513.00M493.66 19.20L987.46 513.00M502.94 19.20L996.74 513.00M512.22 19.20L1006.02 513.00M521.50 19.20L1015.30 513.00M530.78 19.20L1024.58 513.00M540.06 19.20L1033.86 513.00M549.34 19.20L1043.14 513.00M558.62 19.20L1052.42 513.00M567.90 19.20L1061.70 513.00M577.18 19.20L1070.98 513.00M586.46 19.20L1080.26 513.00M595.74 19.20L1089.54 513.00M605.02 19.20L1098.82 513.00M614.30 19.20L1108.10 513.00M623.58 19.20L1117.38 513.00M632.86 19.20L1126.66 513.00M642.14 19.20L1135.94 513.00M651.42 19.20L1145.22 513.00M660.70 19.20L1154.50 513.00M669.98 19.20L1163.78 513.00M679.26 19.20L1173.06 513.00M688.54 19.20L1182.34 513.00M697.82 19.20L1191.62 513.00M707.10 19.20L1200.90 513.00M716.38 19.20L1210.18 513.00M725.66 19.20L1219.46 513.00M734.94 19.20L1228.74 513.00M744.22 19.20L1238.02 513.00M753.50 19.20L1247.30 513.00" stroke="#ff00ff" stroke-width="2.3" fill="none"/>
<path d="M23.66 19.20L-470.14 513.00M32.94 19.20L-460.86 513.00M42.22 19.20L-451.58 513.00M51.50 19.20L-442.30 513.00M60.78 19.20L-433.02 513.00M70.06 19.20L-423.74 513.00M79.34 19.20L-414.46 513.00M88.62 19.20L-405.18 513.00M97.90 19.20L-395.90 513.00M107.18 19.20L-386.62 513.00M116.46 19.20L-377.34 513.00M125.74 19.20L-368.06 513.00M135.02 19.20L-358.78 513.00M144.30 19.20L-349.50 513.00M153.58 19.20L-340.22 513.00M162.86 19.20L-330.94 513.00M172.14 19.20L-321.66 513.00M181.42 19.20L-312.38 513.00M190.70 19.20L-303.10 513.00M199.98 19.20L-293.82 513.00M209.26 19.20L-284.54 513.00M218.54 19.20L-275.26 513.00M227.82 19.20L-265.98 513.00M237.10 19.20L-256.70 513.00M246.38 19.20L-247.42 513.00M255.66 19.20L-238.14 513.00M264.94 19.20L-228.86 513.00M274.22 19.20L-219.58 513.00M283.50 19.20L-210.30 513.00M292.78 19.20L-201.02 513.00M302.06 19.20L-191.74 513.00M311.34 19.20L-182.46 513.00M320.62 19.20L-173.18 513.00M329.90 19.20L-163.90 513.00M339.18 19.20L-154.62 513.00M348.46 19.20L-145.34 513.00M357.74 19.20L-136.06 513.00M367.02 19.20L-126.78 513.00M376.30 19.20L-117.50 513.00M385.58 19.20L-108.22 513.00M394.86 19.20L-98.94 513.00M404.14 19.20L-89.66 513.00M413.42 19.20L-80.38 513.00M422.70 19.20L-71.10 513.00M431.98 19.20L-61.82 513.00M441.26 19.20L-52.54 513.00M450.54 19.20L-43.26 513.00M459.82 19.20L-33.98 513.00M469.10 19.20L-24.70 513.00M478.38 19.20L-15.42 513.00M487.66 19.20L-6.14 513.00M496.94 19.20L3.14 513.00M506.22 19.20L12.42 513.00M515.50 19.20L21.70 513.00M524.78 19.20L30.98 513.00M534.06 19.20L40.26 513.00M543.34 19.20L49.54 513.00M552.62 19.20L58.82 513.00M561.90 19.20L68.10 513.00M571.18 19.20L77.38 513.00M580.46 19.20L86.66 513.00M589.74 19.20L95.94 513.00M599.02 19.20L105.22 513.00M608.30 19.20L114.50 513.00M617.58 19.20L123.78 513.00M626.86 19.20L133.06 513.00M636.14 19.20L142.34 513.00M645.42 19.20L151.62 513.00M654.70 19.20L160.90 513.00M663.98 19.20L170.18 513.00M673.26 19.20L179.46 513.00M682.54 19.20L188.74 513.00M691.82 19.20L198.02 513.00M701.10 19.20L207.30 513.00M710.38 19.20L216.58 513.00M719.66 19.20L225.86 513.00M728.94 19.20L235.14 513.00M738.22 19.20L244.42 513.00M747.50 19.20L253.70 513.00M756.78 19.20L262.98 513.00M766.06 19.20L272.26 513.00M775.34 19.20L281.54 513.00M784.62 19.20L290.82 513.00M793.90 19.20L300.10 513.00M803.18 19.20L309.38 513.00M812.46 19.20L318.66 513.00M821.74 19.20L327.94 513.00M831.02 19.20L337.22 513.00M840.30 19.20L346.50 513.00M849.58 19.20L355.78 513.00M858.86 19.20L365.06 513.00M868.14 19.20L374.34 513.00M877.42 19.20L383.62 513.00M886.70 19.20L392.90 513.00M895.98 19.20L402.18 513.00M905.26 19.20L411.46 513.00M914.54 19.20L420.74 513.00M923.82 19.20L430.02 513.00M933.10 19.20L439.30 513.00M942.38 19.20L448.58 513.00M951.66 19.20L457.86 513.00M960.94 19.20L467.14 513.00M970.22 19.20L476.42 513.00M979.50 19.20L485.70 513.00M988.78 19.20L494.98 513.00M998.06 19.20L504.26 513.00M1007.34 19.20L513.54 513.00M1016.62 19.20L522.82 513.00M1025.90 19.20L532.10 513.00M1035.18 19.20L541.38 513.00M1044.46 19.20L550.66 513.00M1053.74 19.20L559.94 513.00M1063.02 19.20L569.22 513.00M1072.30 19.20L578.50 513.00M1081.58 19.20L587.78 513.00M1090.86 19.20L597.06 513.00M1100.14 19.20L606.34 513.00M1109.42 19.20L615.62 513.00M1118.70 19.20L624.90 513.00M1127.98 19.20L634.18 513.00M1137.26 19.20L643.46 513.00M1146.54 19.20L652.74 513.00M1155.82 19.20L662.02 513.00M1165.10 19.20L671.30 513.00M1174.38 19.20L680.58 513.00M1183.66 19.20L689.86 513.00M1192.94 19.20L699.14 513.00M1202.22 19.20L708.42 513.00M1211.50 19.20L717.70 513.00M1220.78 19.20L726.98 513.00M1230.06 19.20L736.26 513.00M1239.34 19.20L745.54 513.00M1248.62 19.20L754.82 513.00" stroke="#ff00ff" stroke-width="2.3" fill="none"/>
</g>
<polygon points="40.3,294.5 40.5,294.1 40.7,293.7 40.9,293.4 41.1,293.0 41.3,292.5 41.5,292.0 41.9,290.6 42.3,288.8 42.8,286.7 43.2,284.6 43.6,282.4 44.0,280.3 44.4,278.3 44.8,276.2 45.2,274.1 45.6,272.0 46.0,269.9 46.5,267.8 47.1,265.4 47.8,262.9 48.6,260.4 49.4,257.8 50.2,255.4 51.0,253.0 51.8,250.9 52.6,248.9 53.4,246.9 54.2,245.0 55.0,243.0 55.8,241.0 56.5,238.9 57.2,236.7 57.8,234.5 58.5,232.3 59.2,230.1 60.0,228.0 60.9,225.9 61.8,223.9 62.8,221.8 63.9,219.8 64.9,217.9 66.0,216.0 67.0,214.3 68.0,212.7 69.0,211.1 70.0,209.6 71.0,208.0 72.0,206.5 73.0,205.0 74.0,203.5 75.0,202.0 76.0,200.6 77.0,199.2 78.0,198.0 78.8,197.1 79.6,196.4 80.5,195.6 81.3,194.9 82.1,194.2 82.8,193.5 83.5,192.8 84.1,192.0 84.7,191.3 85.3,190.5 85.9,189.8 86.5,189.0 86.8,189.3 87.0,189.6 87.3,189.9 87.5,190.2 87.8,190.6 88.0,191.0 88.4,192.0 88.7,193.2 89.1,194.6 89.4,196.1 89.7,197.5 90.0,199.0 90.4,200.6 90.7,202.2 91.0,203.9 91.4,205.6 91.7,207.3 92.0,209.0 92.3,210.7 92.5,212.3 92.8,214.0 93.0,215.6 93.2,217.3 93.5,219.0 93.8,220.8 94.1,222.5 94.4,224.2 94.7,226.0 94.9,227.9 95.2,230.0 95.5,233.5 95.8,237.3 96.0,241.4 96.2,245.7 96.4,249.9 96.7,254.0 97.0,258.0 97.3,262.0 97.6,266.1 98.0,270.1 98.3,274.1 98.6,278.0 98.9,281.7 99.2,285.4 99.4,289.1 99.7,292.8 100.0,296.4 100.4,300.0 100.8,303.5 101.1,307.0 101.5,310.4 102.0,313.8 102.5,317.0 103.0,320.0 103.4,322.1 103.8,324.2 104.2,326.2 104.7,328.0 105.3,329.6 106.0,331.0 106.6,331.8 107.3,332.6 108.0,333.3 108.8,333.9 109.6,334.3 110.5,334.5 111.9,334.5 113.4,334.1 115.0,333.5 116.7,332.7 118.4,331.8 120.0,331.0 121.7,330.0 123.4,329.0 125.1,327.8 126.7,326.6 128.4,325.3 130.0,324.0 131.7,322.6 133.4,321.1 135.0,319.6 136.7,318.1 138.3,316.6 140.0,315.0 141.7,313.4 143.3,311.9 144.9,310.3 146.6,308.7 148.3,307.0 150.0,305.3 152.0,303.3 154.2,301.2 156.3,299.1 158.5,296.9 160.7,294.7 162.8,292.6 165.0,290.4 167.2,288.1 169.5,285.8 171.6,283.6 173.6,281.6 175.4,280.0 176.2,279.3 176.9,278.9 177.5,278.5 178.2,278.0 179.0,277.4 180.0,276.6 186.3,270.4 195.7,260.6 206.9,248.5 218.6,235.8 229.7,223.9 238.8,214.3 243.5,209.5 247.7,205.2 251.6,201.3 255.4,197.5 259.3,193.6 263.4,189.5 268.2,184.8 273.2,179.9 278.2,174.9 283.2,170.0 287.9,165.2 292.3,160.6 295.7,156.8 299.0,152.9 302.1,149.1 305.1,145.5 307.7,142.4 310.0,139.8 311.0,138.8 311.8,137.9 312.6,137.2 313.4,136.5 314.2,135.8 315.0,135.0 316.0,134.0 317.1,133.0 318.2,131.9 319.3,130.9 320.2,130.0 321.0,129.3 321.3,129.1 321.5,128.9 321.7,128.7 321.9,128.6 322.1,128.5 322.3,128.3 322.7,128.8 323.1,129.4 323.5,129.9 323.9,130.4 324.2,130.9 324.5,131.5 324.7,132.0 324.9,132.6 325.0,133.1 325.1,133.7 325.2,134.3 325.3,135.0 325.5,136.4 325.7,137.9 325.9,139.6 326.1,141.4 326.4,143.2 326.6,145.0 326.9,147.1 327.2,149.3 327.4,151.5 327.8,153.7 328.1,155.9 328.5,158.0 328.9,159.9 329.3,161.7 329.7,163.5 330.2,165.3 330.7,166.9 331.3,168.5 331.8,169.7 332.3,171.0 332.9,172.1 333.4,173.2 334.1,174.2 334.8,175.0 335.4,175.5 336.0,176.0 336.7,176.4 337.4,176.7 338.2,176.9 339.0,177.0 340.6,176.8 342.5,176.3 344.5,175.6 346.6,174.6 348.8,173.5 350.8,172.4 353.1,171.0 355.4,169.3 357.7,167.5 359.9,165.7 362.2,163.9 364.3,162.3 366.1,161.0 367.8,159.8 369.4,158.6 371.1,157.5 372.7,156.4 374.4,155.5 375.9,154.7 377.5,153.9 379.1,153.1 380.6,152.5 381.9,152.2 382.9,152.2 383.3,152.4 383.5,152.6 383.8,153.0 383.9,153.3 384.1,153.8 384.3,154.2 384.6,155.0 384.8,156.0 384.9,157.0 385.1,158.2 385.2,159.4 385.4,160.6 385.6,162.3 385.8,164.2 385.9,166.1 386.1,168.1 386.4,170.0 386.9,171.9 387.5,173.7 388.1,175.5 388.9,177.3 389.7,179.0 390.7,180.6 391.9,182.0 393.3,183.4 394.9,184.7 396.6,186.0 398.5,187.0 400.3,187.7 402.0,187.9 403.7,187.6 405.3,186.8 407.0,185.7 408.6,184.4 410.3,183.0 412.0,181.8 414.0,180.5 416.0,179.2 418.0,177.8 420.1,176.4 422.1,174.9 424.1,173.4 426.1,171.7 428.1,169.9 430.1,168.1 432.1,166.2 434.1,164.3 436.1,162.5 438.1,160.7 440.1,158.9 442.1,157.1 444.2,155.3 446.2,153.5 448.2,151.7 450.2,149.9 452.2,148.1 454.3,146.3 456.3,144.5 458.2,142.6 460.2,140.8 462.1,139.0 463.9,137.2 465.8,135.4 467.6,133.6 469.4,131.8 471.1,130.0 472.6,128.4 474.0,126.8 475.4,125.2 476.8,123.6 478.3,121.9 480.0,120.2 482.8,117.6 486.0,114.8 489.5,111.9 493.0,108.9 496.6,105.9 500.0,103.0 503.4,100.0 507.0,96.9 510.5,93.8 513.9,90.7 517.1,87.8 520.0,85.0 521.9,83.1 523.6,81.3 525.2,79.6 526.8,77.9 528.4,76.2 530.0,74.5 531.6,72.9 533.3,71.2 535.0,69.6 536.6,68.0 538.3,66.5 540.0,65.0 541.6,63.6 543.3,62.3 545.0,61.0 546.6,59.8 548.3,58.5 550.0,57.3 551.7,56.1 553.3,54.8 555.0,53.6 556.6,52.3 558.3,51.1 560.0,50.0 561.6,48.9 563.3,47.9 565.0,46.9 566.6,45.9 568.3,44.9 570.0,44.0 571.7,43.1 573.3,42.2 575.0,41.4 576.6,40.6 578.3,39.8 580.0,39.0 581.7,38.3 583.3,37.6 585.0,36.9 586.6,36.2 588.3,35.6 590.0,35.0 591.7,34.4 593.3,33.9 595.0,33.4 596.7,33.0 598.3,32.5 600.0,32.0 601.7,31.5 603.3,31.0 605.0,30.5 606.7,30.1 608.3,29.6 610.0,29.2 611.7,28.8 613.3,28.4 615.0,28.1 616.7,27.8 618.3,27.5 620.0,27.2 621.6,27.0 623.2,26.8 624.8,26.6 626.4,26.4 628.1,26.2 630.0,26.1 632.9,25.9 636.2,25.8 639.6,25.6 643.1,25.5 646.6,25.4 650.0,25.3 653.3,25.2 656.6,25.1 659.9,25.1 663.2,25.0 666.6,25.0 670.0,24.9 673.7,24.8 677.6,24.8 681.4,24.8 685.3,24.7 689.2,24.7 693.0,24.6 696.8,24.5 700.7,24.5 704.6,24.4 708.3,24.3 711.8,24.2 715.0,24.0 716.9,23.9 718.6,23.7 720.2,23.6 721.8,23.4 723.4,23.2 725.0,23.0 726.7,22.8 728.4,22.5 730.1,22.3 731.7,22.0 733.4,21.8 735.0,21.5 736.4,21.3 737.9,21.0 739.2,20.8 740.6,20.5 742.0,20.3 743.4,20.0 743.0,19.2 40.3,19.2" fill="#87cefa"/>
<g clip-path="url(#ck)">
<path d="M-489.14 19.20L4.66 513.00M-470.58 19.20L23.22 513.00M-452.02 19.20L41.78 513.00M-433.46 19.20L60.34 513.00M-414.90 19.20L78.90 513.00M-396.34 19.20L97.46 513.00M-377.78 19.20L116.02 513.00M-359.22 19.20L134.58 513.00M-340.66 19.20L153.14 513.00M-322.10 19.20L171.70 513.00M-303.54 19.20L190.26 513.00M-284.98 19.20L208.82 513.00M-266.42 19.20L227.38 513.00M-247.86 19.20L245.94 513.00M-229.30 19.20L264.50 513.00M-210.74 19.20L283.06 513.00M-192.18 19.20L301.62 513.00M-173.62 19.20L320.18 513.00M-155.06 19.20L338.74 513.00M-136.50 19.20L357.30 513.00M-117.94 19.20L375.86 513.00M-99.38 19.20L394.42 513.00M-80.82 19.20L412.98 513.00M-62.26 19.20L431.54 513.00M-43.70 19.20L450.10 513.00M-25.14 19.20L468.66 513.00M-6.58 19.20L487.22 513.00M11.98 19.20L505.78 513.00M30.54 19.20L524.34 513.00M49.10 19.20L542.90 513.00M67.66 19.20L561.46 513.00M86.22 19.20L580.02 513.00M104.78 19.20L598.58 513.00M123.34 19.20L617.14 513.00M141.90 19.20L635.70 513.00M160.46 19.20L654.26 513.00M179.02 19.20L672.82 513.00M197.58 19.20L691.38 513.00M216.14 19.20L709.94 513.00M234.70 19.20L728.50 513.00M253.26 19.20L747.06 513.00M271.82 19.20L765.62 513.00M290.38 19.20L784.18 513.00M308.94 19.20L802.74 513.00M327.50 19.20L821.30 513.00M346.06 19.20L839.86 513.00M364.62 19.20L858.42 513.00M383.18 19.20L876.98 513.00M401.74 19.20L895.54 513.00M420.30 19.20L914.10 513.00M438.86 19.20L932.66 513.00M457.42 19.20L951.22 513.00M475.98 19.20L969.78 513.00M494.54 19.20L988.34 513.00M513.10 19.20L1006.90 513.00M531.66 19.20L1025.46 513.00M550.22 19.20L1044.02 513.00M568.78 19.20L1062.58 513.00M587.34 19.20L1081.14 513.00M605.90 19.20L1099.70 513.00M624.46 19.20L1118.26 513.00M643.02 19.20L1136.82 513.00M661.58 19.20L1155.38 513.00M680.14 19.20L1173.94 513.00M698.70 19.20L1192.50 513.00M717.26 19.20L1211.06 513.00M735.82 19.20L1229.62 513.00M754.38 19.20L1248.18 513.00M772.94 19.20L1266.74 513.00" stroke="#000000" stroke-width="2.2" fill="none"/>
</g>
<rect x="40.3" y="19.2" width="702.7" height="493.8" fill="none" stroke="#000" stroke-width="1.8"/>
<polyline points="80.6,195.4 82.8,193.5 83.1,194.2 83.4,194.9 83.7,195.6 84.0,196.4 84.2,197.1 84.5,198.0 84.9,199.4 85.2,201.0 85.6,202.7 85.9,204.5 86.2,206.3 86.5,208.0 86.8,209.7 87.0,211.3 87.3,212.9 87.5,214.6 87.7,216.3 88.0,218.0 88.3,219.9 88.7,221.8 89.0,223.8 89.3,225.8 89.7,227.8 90.0,230.0 90.4,232.8 90.7,235.7 91.0,238.8 91.4,241.9 91.7,245.0 92.0,248.0 92.3,250.8 92.7,253.6 93.0,256.4 93.4,259.2 93.7,262.1 93.9,265.0 94.1,268.3 94.2,271.7 94.3,275.1 94.3,278.5 94.4,281.9 94.5,285.0 94.6,287.4 94.7,289.7 94.8,291.9 94.9,294.1 95.0,296.4 95.2,299.0 95.5,302.9 95.8,307.2 96.2,311.6 96.7,316.2 97.1,320.7 97.5,325.0 97.9,328.8 98.2,332.6 98.6,336.3 99.0,340.0 99.3,343.5 99.7,347.0 100.0,349.9 100.3,352.7 100.7,355.5 101.0,358.2 101.3,361.0 101.6,363.8 101.9,366.9 102.2,370.1 102.5,373.3 102.9,376.5 103.2,379.6 103.5,382.7 103.8,385.5 104.1,388.4 104.4,391.2 104.7,394.0 105.0,396.6 105.4,399.0 105.7,400.7 106.0,402.3 106.3,403.8 106.6,405.2 106.9,406.6 107.3,407.8 107.6,408.6 107.8,409.4 108.1,410.2 108.4,410.9 108.8,411.5 109.2,412.0 109.6,412.4 109.9,412.7 110.4,413.0 110.8,413.2 111.2,413.4 111.7,413.5 112.2,413.5 112.7,413.5 113.3,413.4 113.8,413.2 114.4,413.0 115.0,412.8 115.8,412.5 116.7,412.2 117.5,411.8 118.5,411.3 119.4,410.8 120.5,410.3 122.5,409.3 124.7,408.2 127.1,406.9 129.5,405.5 132.0,404.0 134.3,402.2 136.9,399.7 139.5,397.0 142.0,393.9 144.5,390.7 147.2,387.5 150.0,384.2 153.7,380.2 157.5,376.1 161.6,371.9 165.7,367.6 169.9,363.3 174.1,358.9 178.7,354.1 183.4,349.3 188.1,344.4 193.0,339.4 197.9,334.3 203.0,329.0 209.2,322.5 215.7,315.6 222.3,308.6 228.9,301.5 235.5,294.6 241.7,288.0 246.8,282.6 251.8,277.5 256.6,272.5 261.4,267.5 266.4,262.4 271.7,256.9 278.8,249.6 286.5,241.5 294.4,233.3 302.2,225.2 309.3,217.8 315.4,211.5 318.4,208.4 321.1,205.6 323.6,203.0 326.0,200.6 328.3,198.2 330.6,195.7 332.7,193.5 334.7,191.3 336.7,189.2 338.6,187.1 340.5,184.9 342.4,182.6 344.3,180.1 346.2,177.4 348.0,174.7 349.9,172.1 351.8,169.5 353.8,167.0 355.9,164.8 358.2,162.7 360.5,160.6 362.8,158.7 365.1,156.7 367.2,154.7 369.0,152.8 370.8,150.8 372.6,148.8 374.3,146.9 375.9,145.3 377.3,144.1 378.0,143.6 378.6,143.2 379.2,142.9 379.8,142.6 380.4,142.5 381.0,142.5 381.6,142.7 382.3,143.1 382.9,143.6 383.5,144.2 384.0,144.8 384.5,145.5 384.9,146.4 385.2,147.4 385.4,148.5 385.5,149.6 385.7,150.8 385.8,152.0 385.9,153.3 386.1,154.7 386.1,156.0 386.2,157.5 386.3,159.0 386.4,160.6 386.6,163.1 386.9,165.9 387.2,168.8 387.4,171.7 387.7,174.7 387.9,177.5 388.0,180.0 388.1,182.5 388.1,185.0 388.2,187.4 388.3,189.8 388.5,192.2 388.8,194.5 389.1,196.9 389.5,199.2 389.9,201.5 390.5,203.6 391.1,205.6 391.7,207.1 392.2,208.5 392.9,209.9 393.6,211.1 394.4,212.3 395.3,213.2 396.2,213.9 397.3,214.5 398.4,215.0 399.5,215.4 400.7,215.7 402.0,215.8 403.8,215.7 405.7,215.4 407.7,214.9 409.8,214.2 411.8,213.3 413.8,212.4 416.1,211.1 418.3,209.6 420.6,207.8 422.8,206.0 425.1,204.1 427.3,202.3 429.6,200.4 432.0,198.4 434.3,196.3 436.6,194.3 438.8,192.3 440.8,190.5 442.2,189.2 443.5,187.8 444.8,186.5 446.0,185.3 447.1,184.2 448.2,183.3 448.8,182.8 449.4,182.4 450.0,181.9 450.5,181.6 451.0,181.5 451.5,181.5 452.1,181.9 452.5,182.7 453.0,183.8 453.4,184.9 453.8,186.2 454.2,187.3 454.6,188.6 455.0,189.9 455.3,191.3 455.7,192.7 456.2,194.0 456.8,195.1 457.5,196.0 458.2,196.8 459.0,197.6 459.8,198.2 460.8,198.7 461.8,199.0 463.3,199.1 465.0,198.8 466.8,198.3 468.6,197.6 470.5,196.8 472.3,196.0 474.3,195.0 476.3,193.7 478.2,192.4 480.2,190.9 482.2,189.4 484.3,187.8 486.8,185.8 489.3,183.7 491.9,181.5 494.6,179.2 497.3,176.8 500.0,174.5 503.2,171.8 506.7,169.1 510.1,166.3 513.6,163.5 516.9,160.7 520.0,158.0 522.4,155.8 524.7,153.6 526.9,151.4 529.0,149.2 531.2,147.0 533.4,144.7 535.8,142.2 538.2,139.6 540.6,137.1 543.0,134.4 545.4,131.9 547.8,129.3 550.2,126.8 552.6,124.4 554.9,122.0 557.3,119.5 559.8,117.1 562.3,114.6 565.1,111.8 568.0,109.0 570.9,106.1 573.9,103.3 577.0,100.4 580.0,97.5 583.3,94.4 586.8,91.1 590.3,87.9 593.8,84.7 597.1,81.7 600.0,79.0 601.9,77.3 603.6,75.6 605.2,74.1 606.8,72.6 608.4,71.1 610.0,69.6 611.7,68.1 613.3,66.5 615.0,65.0 616.7,63.4 618.3,61.9 620.0,60.4 621.7,58.9 623.3,57.5 625.0,56.0 626.6,54.6 628.3,53.2 630.0,51.8 631.6,50.5 633.3,49.2 635.0,48.0 636.6,46.8 638.3,45.6 640.0,44.5 641.6,43.5 643.3,42.5 645.0,41.6 646.6,40.7 648.3,39.8 650.0,39.0 651.6,38.2 653.3,37.5 655.0,36.9 656.6,36.2 658.3,35.6 660.0,35.0 661.7,34.4 663.3,33.9 665.0,33.3 666.7,32.8 668.3,32.3 670.0,31.8 671.6,31.3 673.3,30.9 674.9,30.4 676.6,30.0 678.3,29.6 680.0,29.2 682.1,28.8 684.2,28.4 686.4,28.0 688.6,27.6 690.8,27.3 693.0,27.0 695.0,26.8 697.1,26.6 699.1,26.4 701.1,26.3 703.1,26.1 705.0,26.0 706.7,25.9 708.3,25.8 709.9,25.7 711.6,25.7 713.2,25.6 715.0,25.5 717.3,25.4 719.8,25.2 722.4,25.1 725.0,24.9 727.5,24.8 730.0,24.6 732.3,24.4 734.5,24.3 736.7,24.1 739.0,23.9 741.2,23.8 743.4,23.6" fill="none" stroke="#006400" stroke-width="3.7" stroke-linejoin="round"/>
<polyline points="40.4,165.3 41.7,166.5 43.0,167.7 44.2,168.9 45.5,170.0 46.8,171.3 48.0,172.5 49.2,173.8 50.4,175.1 51.6,176.5 52.8,177.8 54.0,179.2 55.1,180.6 56.2,182.0 57.3,183.3 58.4,184.7 59.4,186.1 60.5,187.6 61.5,189.0 62.6,190.6 63.7,192.3 64.8,194.0 65.9,195.6 66.8,197.2 67.7,198.5 68.1,199.2 68.5,199.7 68.9,200.3 69.2,200.8 69.6,201.3 70.0,202.0 70.6,203.1 71.2,204.4 71.9,205.7 72.6,207.1 73.3,208.5 74.0,210.0 74.9,211.9 75.9,213.9 76.9,215.9 78.0,218.0 79.0,220.0 80.0,222.0 80.9,223.7 81.8,225.2 82.8,226.8 83.7,228.4 84.5,230.1 85.3,232.0 86.3,235.1 87.2,238.6 88.0,242.4 88.8,246.2 89.5,250.2 90.2,254.0 90.9,257.9 91.6,262.0 92.3,266.0 92.9,270.0 93.5,274.0 94.1,278.0 94.6,281.7 95.1,285.3 95.5,289.0 96.0,292.6 96.6,296.2 97.2,300.0 98.1,304.2 99.0,308.5 100.1,312.9 101.2,317.3 102.3,321.6 103.3,326.0 103.8,321.6 104.3,317.2 104.9,312.9 105.4,308.5 105.9,304.2 106.4,300.0 106.8,296.3 107.3,292.6 107.7,289.0 108.1,285.5 108.6,281.9 109.2,278.2 109.9,274.1 110.7,269.9 111.5,265.6 112.4,261.4 113.2,257.5 114.0,254.1 114.5,252.2 114.9,250.4 115.4,248.8 115.8,247.2 116.3,245.6 116.8,244.0 117.4,242.2 118.0,240.3 118.7,238.5 119.4,236.6 120.1,234.8 120.8,233.0 121.5,231.3 122.2,229.6 123.0,227.9 123.7,226.2 124.5,224.5 125.3,222.8 126.1,221.1 126.9,219.4 127.8,217.7 128.7,216.0 129.5,214.3 130.4,212.7 131.2,211.2 132.0,209.8 132.8,208.5 133.6,207.1 134.5,205.7 135.4,204.3 136.5,202.8 137.6,201.2 138.7,199.6 139.9,198.1 141.1,196.5 142.2,195.0 143.2,193.5 144.2,192.1 145.2,190.6 146.2,189.2 147.2,187.8 148.2,186.5 149.2,185.3 150.2,184.1 151.2,183.0 152.2,181.9 153.2,181.0 154.2,180.2 154.8,179.7 155.5,179.3 156.1,178.9 156.7,178.6 157.2,178.4 157.8,178.4 158.4,178.6 158.9,178.9 159.4,179.4 159.9,180.0 160.4,180.7 160.8,181.4 161.4,183.1 161.9,185.2 162.3,187.6 162.7,190.1 163.0,192.6 163.3,195.0 163.6,197.1 163.9,199.2 164.2,201.3 164.4,203.3 164.6,205.5 164.9,207.7 165.2,210.4 165.5,213.2 165.8,216.1 166.1,219.0 166.3,221.8 166.6,224.5 166.8,226.7 167.0,228.9 167.3,231.0 167.5,233.0 167.7,235.1 167.9,237.2 168.1,239.3 168.3,241.4 168.5,243.5 168.7,245.6 168.9,247.8 169.2,250.0 169.6,252.6 170.0,255.4 170.4,258.2 170.8,261.0 171.3,263.6 171.6,266.1 171.8,268.0 172.0,269.8 172.1,271.5 172.3,273.2 172.4,274.7 172.7,276.0 172.9,276.7 173.0,277.3 173.2,277.9 173.4,278.4 173.7,278.9 174.0,279.3 174.3,279.7 174.7,280.0 175.1,280.2 175.6,280.5 176.0,280.7 176.5,280.8 177.0,280.9 177.4,280.9 177.9,280.9 178.4,280.8 179.0,280.7 179.5,280.5 180.3,280.2 181.1,279.9 181.9,279.4 182.7,278.9 183.6,278.4 184.5,277.8 185.8,276.9 187.2,275.8 188.7,274.7 190.1,273.5 191.6,272.3 193.0,271.1 194.4,269.9 195.8,268.6 197.2,267.3 198.6,266.0 200.0,264.8 201.4,263.5 202.8,262.3 204.2,261.1 205.6,259.8 207.0,258.6 208.4,257.5 209.8,256.3 211.1,255.3 212.3,254.3 213.5,253.3 214.8,252.3 216.1,251.2 217.4,250.0 219.4,248.1 221.4,246.1 223.6,243.8 225.8,241.5 228.0,239.0 230.3,236.5 233.2,233.1 236.1,229.5 239.1,225.8 242.2,221.9 245.5,217.9 248.9,214.0 253.3,209.3 258.0,204.5 262.9,199.6 267.9,194.7 272.9,189.8 277.8,184.9 282.7,180.0 287.7,175.1 292.7,170.2 297.6,165.4 302.3,160.6 306.7,156.0 310.0,152.3 313.1,148.7 316.1,145.1 319.0,141.6 321.8,138.1 324.8,134.5 325.5,135.3 326.2,136.1 327.0,136.8 327.7,137.6 328.3,138.5 328.9,139.5 329.5,141.0 330.0,142.7 330.3,144.5 330.6,146.3 331.0,148.2 331.3,150.0 331.7,151.7 332.0,153.3 332.3,155.0 332.7,156.7 333.0,158.3 333.3,160.0 333.6,161.7 333.9,163.3 334.2,164.9 334.5,166.6 334.9,168.3 335.2,170.0 335.5,172.0 335.8,174.1 336.0,176.2 336.4,178.3 336.9,180.3 337.6,182.0 338.4,183.4 339.4,184.7 340.4,186.0 341.6,187.0 342.8,187.9 344.1,188.4 345.6,188.6 347.3,188.4 349.0,188.0 350.8,187.4 352.5,186.6 354.2,185.9 355.9,185.0 357.6,184.0 359.3,182.8 361.0,181.6 362.6,180.4 364.3,179.1 366.0,177.7 367.8,176.3 369.5,174.8 371.2,173.3 372.9,171.9 374.4,170.7 375.4,169.9 376.4,169.2 377.4,168.5 378.3,167.9 379.2,167.3 380.1,166.9 380.8,166.6 381.5,166.5 382.2,166.3 382.9,166.2 383.6,166.1 384.3,166.0 384.7,167.8 385.2,169.6 385.6,171.4 386.1,173.2 386.5,175.1 386.9,177.0 387.3,179.2 387.7,181.5 388.1,183.8 388.5,186.2 388.9,188.4 389.4,190.5 389.8,192.2 390.3,193.9 390.7,195.6 391.3,197.1 391.9,198.5 392.8,199.7 393.8,200.6 394.9,201.4 396.2,202.1 397.5,202.6 398.8,202.9 400.1,203.1 401.4,203.0 402.6,202.8 403.9,202.4 405.2,201.8 406.4,201.2 407.7,200.5 409.1,199.6 410.5,198.6 411.9,197.4 413.3,196.2 414.7,194.9 416.1,193.7 417.5,192.5 418.9,191.2 420.3,189.9 421.7,188.6 423.1,187.4 424.5,186.1 425.9,184.8 427.3,183.6 428.8,182.3 430.2,181.1 431.6,179.9 433.0,178.6 434.4,177.3 435.8,176.1 437.2,174.8 438.6,173.5 440.0,172.2 441.4,171.0 442.8,169.9 444.2,168.8 445.6,167.7 447.0,166.6 448.4,165.5 449.8,164.2 451.5,162.5 453.2,160.6 454.9,158.7 456.6,156.7 458.4,154.7 460.2,152.7 462.1,150.7 464.1,148.7 466.2,146.7 468.2,144.7 470.2,142.7 472.3,140.8 474.3,139.0 476.2,137.4 478.2,135.7 480.2,134.1 482.2,132.4 484.3,130.5 486.8,128.1 489.3,125.6 491.9,123.0 494.5,120.4 497.2,117.7 500.0,115.0 503.2,112.1 506.5,109.1 509.9,106.2 513.3,103.1 516.7,100.1 520.0,97.0 523.4,93.7 527.0,90.2 530.5,86.7 533.9,83.3 537.1,80.0 540.0,77.0 541.9,75.0 543.6,73.2 545.2,71.5 546.8,69.8 548.3,68.1 550.0,66.5 551.6,65.0 553.3,63.5 554.9,62.1 556.6,60.7 558.3,59.3 560.0,58.0 561.6,56.8 563.3,55.5 565.0,54.4 566.6,53.2 568.3,52.1 570.0,51.0 571.7,49.9 573.3,48.9 575.0,47.9 576.6,46.9 578.3,45.9 580.0,45.0 581.7,44.1 583.3,43.3 585.0,42.4 586.7,41.6 588.3,40.8 590.0,40.0 591.7,39.2 593.3,38.4 595.0,37.7 596.7,36.9 598.3,36.2 600.0,35.5 601.7,34.8 603.3,34.2 605.0,33.6 606.7,33.0 608.3,32.4 610.0,31.8 611.7,31.2 613.3,30.7 615.0,30.2 616.7,29.7 618.3,29.2 620.0,28.8 621.7,28.4 623.3,28.1 625.0,27.9 626.7,27.6 628.3,27.4 630.0,27.2 631.7,27.0 633.3,26.8 635.0,26.7 636.7,26.6 638.3,26.4 640.0,26.3 641.7,26.2 643.3,26.1 645.0,26.0 646.7,25.9 648.3,25.8 650.0,25.6 651.7,25.4 653.3,25.2 655.0,24.9 656.7,24.7 658.3,24.4 660.0,24.2 661.6,24.0 663.2,23.8 664.7,23.5 666.4,23.3 668.1,23.2 670.0,23.0 673.3,22.8 677.0,22.8 680.9,22.8 685.0,22.8 689.1,22.7 693.0,22.7 696.8,22.6" fill="none" stroke="#ff00ff" stroke-width="3.4" stroke-linejoin="round"/>
<g clip-path="url(#cb)"><polyline points="40.3,294.5 40.5,294.1 40.7,293.7 40.9,293.4 41.1,293.0 41.3,292.5 41.5,292.0 41.9,290.6 42.3,288.8 42.8,286.7 43.2,284.6 43.6,282.4 44.0,280.3 44.4,278.3 44.8,276.2 45.2,274.1 45.6,272.0 46.0,269.9 46.5,267.8 47.1,265.4 47.8,262.9 48.6,260.4 49.4,257.8 50.2,255.4 51.0,253.0 51.8,250.9 52.6,248.9 53.4,246.9 54.2,245.0 55.0,243.0 55.8,241.0 56.5,238.9 57.2,236.7 57.8,234.5 58.5,232.3 59.2,230.1 60.0,228.0 60.9,225.9 61.8,223.9 62.8,221.8 63.9,219.8 64.9,217.9 66.0,216.0 67.0,214.3 68.0,212.7 69.0,211.1 70.0,209.6 71.0,208.0 72.0,206.5 73.0,205.0 74.0,203.5 75.0,202.0 76.0,200.6 77.0,199.2 78.0,198.0 78.8,197.1 79.6,196.4 80.5,195.6 81.3,194.9 82.1,194.2 82.8,193.5 83.5,192.8 84.1,192.0 84.7,191.3 85.3,190.5 85.9,189.8 86.5,189.0 86.8,189.3 87.0,189.6 87.3,189.9 87.5,190.2 87.8,190.6 88.0,191.0 88.4,192.0 88.7,193.2 89.1,194.6 89.4,196.1 89.7,197.5 90.0,199.0 90.4,200.6 90.7,202.2 91.0,203.9 91.4,205.6 91.7,207.3 92.0,209.0 92.3,210.7 92.5,212.3 92.8,214.0 93.0,215.6 93.2,217.3 93.5,219.0 93.8,220.8 94.1,222.5 94.4,224.2 94.7,226.0 94.9,227.9 95.2,230.0 95.5,233.5 95.8,237.3 96.0,241.4 96.2,245.7 96.4,249.9 96.7,254.0 97.0,258.0 97.3,262.0 97.6,266.1 98.0,270.1 98.3,274.1 98.6,278.0 98.9,281.7 99.2,285.4 99.4,289.1 99.7,292.8 100.0,296.4 100.4,300.0 100.8,303.5 101.1,307.0 101.5,310.4 102.0,313.8 102.5,317.0 103.0,320.0 103.4,322.1 103.8,324.2 104.2,326.2 104.7,328.0 105.3,329.6 106.0,331.0 106.6,331.8 107.3,332.6 108.0,333.3 108.8,333.9 109.6,334.3 110.5,334.5 111.9,334.5 113.4,334.1 115.0,333.5 116.7,332.7 118.4,331.8 120.0,331.0 121.7,330.0 123.4,329.0 125.1,327.8 126.7,326.6 128.4,325.3 130.0,324.0 131.7,322.6 133.4,321.1 135.0,319.6 136.7,318.1 138.3,316.6 140.0,315.0 141.7,313.4 143.3,311.9 144.9,310.3 146.6,308.7 148.3,307.0 150.0,305.3 152.0,303.3 154.2,301.2 156.3,299.1 158.5,296.9 160.7,294.7 162.8,292.6 165.0,290.4 167.2,288.1 169.5,285.8 171.6,283.6 173.6,281.6 175.4,280.0 176.2,279.3 176.9,278.9 177.5,278.5 178.2,278.0 179.0,277.4 180.0,276.6 186.3,270.4 195.7,260.6 206.9,248.5 218.6,235.8 229.7,223.9 238.8,214.3 243.5,209.5 247.7,205.2 251.6,201.3 255.4,197.5 259.3,193.6 263.4,189.5 268.2,184.8 273.2,179.9 278.2,174.9 283.2,170.0 287.9,165.2 292.3,160.6 295.7,156.8 299.0,152.9 302.1,149.1 305.1,145.5 307.7,142.4 310.0,139.8 311.0,138.8 311.8,137.9 312.6,137.2 313.4,136.5 314.2,135.8 315.0,135.0 316.0,134.0 317.1,133.0 318.2,131.9 319.3,130.9 320.2,130.0 321.0,129.3 321.3,129.1 321.5,128.9 321.7,128.7 321.9,128.6 322.1,128.5 322.3,128.3 322.7,128.8 323.1,129.4 323.5,129.9 323.9,130.4 324.2,130.9 324.5,131.5 324.7,132.0 324.9,132.6 325.0,133.1 325.1,133.7 325.2,134.3 325.3,135.0 325.5,136.4 325.7,137.9 325.9,139.6 326.1,141.4 326.4,143.2 326.6,145.0 326.9,147.1 327.2,149.3 327.4,151.5 327.8,153.7 328.1,155.9 328.5,158.0 328.9,159.9 329.3,161.7 329.7,163.5 330.2,165.3 330.7,166.9 331.3,168.5 331.8,169.7 332.3,171.0 332.9,172.1 333.4,173.2 334.1,174.2 334.8,175.0 335.4,175.5 336.0,176.0 336.7,176.4 337.4,176.7 338.2,176.9 339.0,177.0 340.6,176.8 342.5,176.3 344.5,175.6 346.6,174.6 348.8,173.5 350.8,172.4 353.1,171.0 355.4,169.3 357.7,167.5 359.9,165.7 362.2,163.9 364.3,162.3 366.1,161.0 367.8,159.8 369.4,158.6 371.1,157.5 372.7,156.4 374.4,155.5 375.9,154.7 377.5,153.9 379.1,153.1 380.6,152.5 381.9,152.2 382.9,152.2 383.3,152.4 383.5,152.6 383.8,153.0 383.9,153.3 384.1,153.8 384.3,154.2 384.6,155.0 384.8,156.0 384.9,157.0 385.1,158.2 385.2,159.4 385.4,160.6 385.6,162.3 385.8,164.2 385.9,166.1 386.1,168.1 386.4,170.0 386.9,171.9 387.5,173.7 388.1,175.5 388.9,177.3 389.7,179.0 390.7,180.6 391.9,182.0 393.3,183.4 394.9,184.7 396.6,186.0 398.5,187.0 400.3,187.7 402.0,187.9 403.7,187.6 405.3,186.8 407.0,185.7 408.6,184.4 410.3,183.0 412.0,181.8 414.0,180.5 416.0,179.2 418.0,177.8 420.1,176.4 422.1,174.9 424.1,173.4 426.1,171.7 428.1,169.9 430.1,168.1 432.1,166.2 434.1,164.3 436.1,162.5 438.1,160.7 440.1,158.9 442.1,157.1 444.2,155.3 446.2,153.5 448.2,151.7 450.2,149.9 452.2,148.1 454.3,146.3 456.3,144.5 458.2,142.6 460.2,140.8 462.1,139.0 463.9,137.2 465.8,135.4 467.6,133.6 469.4,131.8 471.1,130.0 472.6,128.4 474.0,126.8 475.4,125.2 476.8,123.6 478.3,121.9 480.0,120.2 482.8,117.6 486.0,114.8 489.5,111.9 493.0,108.9 496.6,105.9 500.0,103.0 503.4,100.0 507.0,96.9 510.5,93.8 513.9,90.7 517.1,87.8 520.0,85.0 521.9,83.1 523.6,81.3 525.2,79.6 526.8,77.9 528.4,76.2 530.0,74.5 531.6,72.9 533.3,71.2 535.0,69.6 536.6,68.0 538.3,66.5 540.0,65.0 541.6,63.6 543.3,62.3 545.0,61.0 546.6,59.8 548.3,58.5 550.0,57.3 551.7,56.1 553.3,54.8 555.0,53.6 556.6,52.3 558.3,51.1 560.0,50.0 561.6,48.9 563.3,47.9 565.0,46.9 566.6,45.9 568.3,44.9 570.0,44.0 571.7,43.1 573.3,42.2 575.0,41.4 576.6,40.6 578.3,39.8 580.0,39.0 581.7,38.3 583.3,37.6 585.0,36.9 586.6,36.2 588.3,35.6 590.0,35.0 591.7,34.4 593.3,33.9 595.0,33.4 596.7,33.0 598.3,32.5 600.0,32.0 601.7,31.5 603.3,31.0 605.0,30.5 606.7,30.1 608.3,29.6 610.0,29.2 611.7,28.8 613.3,28.4 615.0,28.1 616.7,27.8 618.3,27.5 620.0,27.2 621.6,27.0 623.2,26.8 624.8,26.6 626.4,26.4 628.1,26.2 630.0,26.1 632.9,25.9 636.2,25.8 639.6,25.6 643.1,25.5 646.6,25.4 650.0,25.3 653.3,25.2 656.6,25.1 659.9,25.1 663.2,25.0 666.6,25.0 670.0,24.9 673.7,24.8 677.6,24.8 681.4,24.8 685.3,24.7 689.2,24.7 693.0,24.6 696.8,24.5 700.7,24.5 704.6,24.4 708.3,24.3 711.8,24.2 715.0,24.0 716.9,23.9 718.6,23.7 720.2,23.6 721.8,23.4 723.4,23.2 725.0,23.0 726.7,22.8 728.4,22.5 730.1,22.3 731.7,22.0 733.4,21.8 735.0,21.5 736.4,21.3 737.9,21.0 739.2,20.8 740.6,20.5 742.0,20.3 743.4,20.0" fill="none" stroke="#87cefa" stroke-width="7.4" stroke-linejoin="round"/></g>
<polyline points="40.3,294.5 40.5,294.1 40.7,293.7 40.9,293.4 41.1,293.0 41.3,292.5 41.5,292.0 41.9,290.6 42.3,288.8 42.8,286.7 43.2,284.6 43.6,282.4 44.0,280.3 44.4,278.3 44.8,276.2 45.2,274.1 45.6,272.0 46.0,269.9 46.5,267.8 47.1,265.4 47.8,262.9 48.6,260.4 49.4,257.8 50.2,255.4 51.0,253.0 51.8,250.9 52.6,248.9 53.4,246.9 54.2,245.0 55.0,243.0 55.8,241.0 56.5,238.9 57.2,236.7 57.8,234.5 58.5,232.3 59.2,230.1 60.0,228.0 60.9,225.9 61.8,223.9 62.8,221.8 63.9,219.8 64.9,217.9 66.0,216.0 67.0,214.3 68.0,212.7 69.0,211.1 70.0,209.6 71.0,208.0 72.0,206.5 73.0,205.0 74.0,203.5 75.0,202.0 76.0,200.6 77.0,199.2 78.0,198.0 78.8,197.1 79.6,196.4 80.4,195.6 81.2,194.9 82.0,194.2 82.8,193.5" fill="none" stroke="#006400" stroke-width="1" stroke-linejoin="round"/>
<polyline points="40.4,173.0 41.7,174.2 42.9,175.5 44.2,176.7 45.5,178.0 46.8,179.2 48.0,180.5 49.2,181.7 50.4,183.0 51.6,184.2 52.8,185.5 54.0,186.7 55.1,188.0 56.2,189.3 57.3,190.6 58.4,191.9 59.4,193.2 60.5,194.6 61.5,196.0 62.6,197.5 63.6,199.1 64.6,200.6 65.7,202.2 66.7,203.9 67.7,205.5 68.8,207.2 69.9,209.1 71.0,210.9 72.1,212.7 73.1,214.4 74.0,216.0 74.6,217.1 75.1,218.1 75.6,219.0 76.0,220.0 76.5,221.0 77.0,222.0 77.6,223.3 78.2,224.6 78.8,226.0 79.4,227.3 80.0,228.7 80.5,230.0 80.9,231.1 81.4,232.2 81.8,233.3 82.2,234.4 82.6,235.4 83.0,236.5 83.4,237.5 83.8,238.4 84.3,239.4 84.7,240.3 85.1,241.4 85.5,242.5 86.0,244.2 86.5,246.1 87.0,248.0 87.4,250.1 87.9,252.3 88.4,254.6 89.1,258.1 89.9,261.9 90.8,266.0 91.6,270.1 92.4,274.2 93.1,278.2 93.7,281.9 94.4,285.7 94.9,289.4 95.5,293.1 96.1,296.6 96.7,300.0 97.2,302.7 97.7,305.2 98.2,307.6 98.7,310.0 99.2,312.5 99.8,315.0 100.5,317.9 101.2,320.9 102.0,323.9 102.8,326.9 103.5,330.0 104.3,333.0 104.9,330.0 105.4,326.9 106.0,323.9 106.6,320.9 107.1,317.9 107.6,315.0 108.0,312.5 108.4,310.0 108.7,307.6 109.0,305.2 109.3,302.6 109.7,300.0 110.1,296.6 110.5,293.1 110.9,289.4 111.4,285.7 111.9,281.9 112.5,278.2 113.2,274.1 114.1,269.9 115.0,265.6 116.0,261.4 116.9,257.5 117.8,254.1 118.4,252.2 118.9,250.4 119.4,248.8 120.0,247.2 120.5,245.7 121.1,244.0 121.7,242.2 122.4,240.4 123.1,238.5 123.8,236.7 124.5,234.8 125.3,233.0 126.1,231.1 126.9,229.3 127.7,227.4 128.6,225.6 129.5,223.8 130.4,222.0 131.3,220.3 132.3,218.5 133.3,216.8 134.3,215.2 135.3,213.5 136.3,211.9 137.3,210.4 138.2,208.9 139.2,207.5 140.2,206.1 141.2,204.7 142.2,203.4 143.2,202.2 144.2,201.0 145.2,199.9 146.2,198.8 147.2,197.7 148.1,196.7 148.8,195.9 149.4,195.2 150.0,194.4 150.6,193.7 151.2,193.0 151.8,192.3 152.0,193.0 152.2,193.7 152.4,194.4 152.6,195.2 152.8,195.9 153.1,196.7 153.5,197.7 153.9,198.8 154.4,199.9 154.9,201.0 155.3,202.2 155.7,203.4 156.1,204.7 156.4,206.1 156.7,207.5 156.9,208.9 157.2,210.4 157.4,211.9 157.7,213.9 157.9,216.0 158.1,218.2 158.2,220.4 158.4,222.5 158.6,224.5 158.8,226.0 158.9,227.4 159.1,228.8 159.2,230.1 159.4,231.5 159.5,233.0 159.6,234.8 159.8,236.6 159.9,238.4 160.0,240.3 160.1,242.2 160.3,244.0 160.5,245.7 160.8,247.2 161.1,248.8 161.4,250.4 161.6,252.2 161.9,254.1 162.2,257.5 162.6,261.4 162.8,265.6 163.1,269.9 163.4,274.1 163.7,278.2 164.0,281.9 164.3,285.4 164.6,289.0 164.9,292.5 165.2,296.2 165.5,300.0 165.8,304.8 166.2,309.9 166.5,315.2 166.8,320.4 167.1,325.4 167.5,330.0 167.8,333.3 168.1,336.4 168.4,339.3 168.7,342.2 169.0,345.1 169.3,348.1 169.6,351.2 169.8,354.4 170.1,357.5 170.4,360.6 170.7,363.5 171.1,366.1 171.4,367.8 171.7,369.4 172.0,370.9 172.4,372.3 172.9,373.5 173.5,374.6 174.1,375.3 174.7,376.0 175.4,376.6 176.1,377.1 176.9,377.4 177.7,377.6 178.9,377.6 180.2,377.3 181.7,376.8 183.1,376.2 184.6,375.4 186.1,374.6 188.1,373.4 190.1,371.9 192.1,370.3 194.2,368.6 196.2,366.8 198.2,365.0 200.2,363.1 202.3,361.1 204.2,359.1 206.2,357.0 208.2,354.9 210.2,352.9 212.2,350.9 214.3,348.8 216.3,346.8 218.3,344.8 220.3,342.8 222.3,340.8 224.0,339.1 225.5,337.6 227.0,336.1 228.7,334.4 230.7,332.5 233.1,330.0 246.4,316.5 266.1,296.4 289.2,272.8 312.5,248.8 333.0,227.5 347.5,212.0 351.3,207.7 354.4,204.0 357.0,200.8 359.4,197.8 361.8,194.9 364.3,192.0 366.7,189.4 369.2,186.7 371.6,184.1 373.9,181.8 376.0,179.7 377.8,178.0 378.5,177.3 379.2,176.8 379.8,176.3 380.3,175.9 380.9,175.5 381.5,175.0 382.0,175.9 382.6,176.8 383.2,177.7 383.7,178.6 384.2,179.7 384.6,180.8 385.1,182.7 385.4,184.7 385.6,186.9 385.8,189.3 386.0,191.8 386.2,194.3 386.5,197.8 386.7,201.7 386.8,205.8 387.0,209.8 387.3,213.8 387.7,217.5 388.1,220.5 388.6,223.5 389.1,226.4 389.7,229.1 390.4,231.8 391.1,234.3 391.7,236.2 392.3,238.1 392.9,239.9 393.6,241.6 394.4,243.1 395.3,244.4 396.2,245.4 397.2,246.3 398.3,247.2 399.4,247.8 400.7,248.3 402.0,248.5 404.2,248.2 406.7,247.3 409.4,245.9 412.1,244.3 414.7,242.6 417.2,241.1 419.3,239.8 421.3,238.4 423.3,237.0 425.2,235.6 427.1,234.1 429.0,232.6 431.0,231.0 433.0,229.3 435.1,227.6 437.0,225.8 439.0,224.1 440.8,222.5 442.4,221.1 443.9,219.6 445.4,218.1 446.9,216.8 448.2,215.7 449.3,214.9 449.8,214.6 450.2,214.4 450.7,214.2 451.1,214.0 451.4,214.0 451.8,214.1 452.3,214.6 452.8,215.6 453.2,216.8 453.6,218.1 453.9,219.5 454.3,220.8 454.7,222.2 455.0,223.7 455.3,225.2 455.7,226.7 456.2,228.1 456.8,229.3 457.5,230.2 458.2,231.1 459.0,231.9 459.9,232.6 460.9,233.2 461.9,233.5 463.2,233.6 464.7,233.4 466.3,233.0 467.9,232.4 469.6,231.7 471.2,231.0 473.4,229.9 475.6,228.7 477.9,227.2 480.2,225.7 482.5,224.1 484.7,222.5 487.0,220.8 489.3,219.0 491.5,217.1 493.8,215.3 496.0,213.4 498.2,211.6 500.2,210.0 502.1,208.5 504.0,207.0 505.9,205.4 507.9,203.8 510.0,202.0 512.9,199.4 516.1,196.5 519.4,193.5 522.6,190.5 525.6,187.6 528.3,185.0 529.9,183.4 531.3,182.0 532.6,180.7 533.9,179.3 535.4,177.8 537.0,176.0 540.2,172.4 543.9,168.2 547.9,163.7 552.0,158.9 556.1,154.3 560.0,150.0 563.4,146.3 566.7,142.8 570.1,139.3 573.4,135.9 576.7,132.5 580.0,129.0 583.3,125.5 586.6,121.9 590.0,118.4 593.3,114.9 596.6,111.4 600.0,108.0 603.3,104.8 606.6,101.7 609.9,98.6 613.3,95.5 616.6,92.5 620.0,89.5 623.4,86.5 626.9,83.5 630.4,80.5 633.8,77.6 637.1,74.8 640.0,72.3 641.9,70.7 643.6,69.2 645.2,67.7 646.8,66.3 648.4,64.9 650.0,63.5 651.7,62.0 653.3,60.6 655.0,59.1 656.6,57.6 658.3,56.2 660.0,54.8 661.6,53.5 663.3,52.2 665.0,51.0 666.6,49.8 668.3,48.6 670.0,47.5 671.6,46.4 673.3,45.4 674.9,44.4 676.5,43.4 678.2,42.5 680.0,41.5 682.1,40.4 684.2,39.4 686.4,38.3 688.6,37.3 690.8,36.3 693.0,35.3 695.0,34.4 697.1,33.5 699.1,32.7 701.1,31.9 703.1,31.2 705.0,30.5 706.7,30.0 708.4,29.5 710.0,29.1 711.7,28.7 713.3,28.4 715.0,28.0 716.7,27.6 718.3,27.3 720.0,26.9 721.7,26.6 723.3,26.3 725.0,26.0 726.7,25.7 728.4,25.4 730.1,25.2 731.7,25.0 733.4,24.7 735.0,24.5 736.4,24.3 737.9,24.1 739.2,24.0 740.6,23.8 742.0,23.7 743.4,23.5" fill="none" stroke="#000000" stroke-width="3.9" stroke-linejoin="round"/>
<text x="40.6" y="538" font-size="25" text-anchor="middle" >.005</text>
<text x="106.5" y="538" font-size="25" text-anchor="middle" >.01</text>
<text x="172.4" y="538" font-size="25" text-anchor="middle" >.02</text>
<text x="259.6" y="538" font-size="25" text-anchor="middle" >.05</text>
<text x="325.5" y="538" font-size="25" text-anchor="middle" >.1</text>
<text x="391.4" y="538" font-size="25" text-anchor="middle" >.2</text>
<text x="430.0" y="538" font-size="25" text-anchor="middle" >.3</text>
<text x="478.6" y="538" font-size="25" text-anchor="middle" >.5</text>
<text x="510.6" y="538" font-size="25" text-anchor="middle" >.7</text>
<text x="544.5" y="538" font-size="25" text-anchor="middle" >1</text>
<text x="610.4" y="538" font-size="25" text-anchor="middle" >2</text>
<text x="649.0" y="538" font-size="25" text-anchor="middle" >3</text>
<text x="697.6" y="538" font-size="25" text-anchor="middle" >5</text>
<text x="736.1" y="538" font-size="25" text-anchor="middle" >7.5</text>
<text transform="translate(752.2,29.3) scale(0.95,1)" font-size="30.4">2e0</text>
<text transform="translate(752.2,63.9) scale(0.95,1)" font-size="30.4">1e0</text>
<text transform="translate(752.2,98.5) scale(0.95,1)" font-size="30.4">5e-1</text>
<text transform="translate(752.2,144.2) scale(0.95,1)" font-size="30.4">2e-1</text>
<text transform="translate(752.2,178.8) scale(0.95,1)" font-size="30.4">1e-1</text>
<text transform="translate(752.2,213.4) scale(0.95,1)" font-size="30.4">5e-2</text>
<text transform="translate(752.2,259.1) scale(0.95,1)" font-size="30.4">2e-2</text>
<text transform="translate(752.2,293.7) scale(0.95,1)" font-size="30.4">1e-2</text>
<text transform="translate(752.2,328.3) scale(0.95,1)" font-size="30.4">5e-3</text>
<text transform="translate(752.2,374.0) scale(0.95,1)" font-size="30.4">2e-3</text>
<text transform="translate(752.2,408.6) scale(0.95,1)" font-size="30.4">1e-3</text>
<text transform="translate(752.2,443.2) scale(0.95,1)" font-size="30.4">5e-4</text>
<text transform="translate(752.2,488.9) scale(0.95,1)" font-size="30.4">2e-4</text>
<text transform="translate(752.2,523.5) scale(0.95,1)" font-size="30.4">1e-4</text>
<text x="312.5" y="561.2" font-size="35">m</text>
<g transform="translate(343,571.6)"><polygon points="10.2,-13.4 13,-13.4 3,5.1 0,5.1" fill="#000"/><path d="M0.1 -8.9 C0.5 -12.1 2 -13.8 3.3 -13.5 C5.3 -13 5.3 -9.6 6 -6.6 C7 -2.1 8 2.4 9.8 4.4 C11.5 5.9 13.2 3.9 13.7 0.9" fill="none" stroke="#000" stroke-width="1.5" stroke-linecap="round"/></g>
<text x="367.3" y="561.2" font-size="35">in</text>
<text transform="translate(408.5,561.2) scale(1,1.04)" font-size="35">T</text>
<text transform="translate(428.2,561.2) scale(1,1.04)" font-size="35">eV</text>
<g transform="translate(20.1,299.5) rotate(-90)"><text x="0" y="0" font-size="34">g</text><g transform="translate(21.5,11.2)"><polygon points="10.2,-13.4 13,-13.4 3,5.1 0,5.1" fill="#000"/><path d="M0.1 -8.9 C0.5 -12.1 2 -13.8 3.3 -13.5 C5.3 -13 5.3 -9.6 6 -6.6 C7 -2.1 8 2.4 9.8 4.4 C11.5 5.9 13.2 3.9 13.7 0.9" fill="none" stroke="#000" stroke-width="1.5" stroke-linecap="round"/></g><text transform="translate(33.3,11.3) scale(1.18,1)" font-size="27.6">S</text><text x="56.3" y="-2.6" font-size="23.5">0</text></g>
<rect x="544.6" y="263.3" width="185.6" height="100.2" fill="#fff" stroke="#000" stroke-width="0.9"/>
<text transform="translate(574.4,308.3) scale(1,1.05)" font-size="20.5">m</text>
<text transform="translate(593.6,314.6) scale(1,1.05)" font-size="16.6">12</text>
<text transform="translate(611.3,297.8) scale(1,1.05)" font-size="16.2">2</text>
<text transform="translate(626.7,310.3) scale(1,1.05)" font-size="20.5">=</text>
<text transform="translate(644.0,308.3) scale(1,1.05)" font-size="20.5">50</text>
<text transform="translate(673.1,308.3) scale(1,1.05)" font-size="20.5">GeV</text>
<text transform="translate(714.5,297.8) scale(1,1.05)" font-size="16.2">2</text>
<text transform="translate(577.4,348.2) scale(1,1.05)" font-size="20.5">m</text>
<text transform="translate(596.8,354.5) scale(1,1.05)" font-size="16.8">A</text>
<text transform="translate(608.3,346.8) scale(1,1.05)" font-size="13.6">0</text>
<text transform="translate(622.0,350.2) scale(1,1.05)" font-size="20.5">=</text>
<text transform="translate(639.0,348.2) scale(1,1.05)" font-size="20.5">200</text>
<text transform="translate(678.9,348.2) scale(1,1.05)" font-size="20.5">GeV</text>
<text transform="translate(323.7,414.4) scale(1,1.05)" font-size="22.3">m</text>
<text transform="translate(343.3,420.6) scale(1,1.05)" font-size="18.4">S</text>
<text transform="translate(356.6,411.5) scale(1,1.05)" font-size="14.4">0</text>
<text transform="translate(372.3,416.7) scale(1,1.05)" font-size="22.3">=</text>
<text transform="translate(392.4,414.4) scale(1,1.05)" font-size="22.3">10</text>
<text transform="translate(424.0,414.4) scale(1,1.05)" font-size="22.3">GeV;</text>
<text transform="translate(482.7,414.4) scale(1,1.05)" font-size="22.3">m</text>
<text transform="translate(503.2,420.6) scale(1,1.05)" font-size="18.4">H</text>
<text transform="translate(517.6,411.5) scale(1,1.05)" font-size="14.4">0</text>
<text transform="translate(532.4,416.7) scale(1,1.05)" font-size="22.3">=</text>
<text transform="translate(552.2,414.4) scale(1,1.05)" font-size="22.3">400</text>
<text transform="translate(597.4,414.4) scale(1,1.05)" font-size="22.3">GeV</text>
<text transform="translate(323.7,442.2) scale(1,1.05)" font-size="22.3">m</text>
<text transform="translate(343.3,448.4) scale(1,1.05)" font-size="18.4">S</text>
<text transform="translate(356.6,439.3) scale(1,1.05)" font-size="14.4">0</text>
<text transform="translate(372.3,444.5) scale(1,1.05)" font-size="22.3">=</text>
<text transform="translate(392.4,442.2) scale(1,1.05)" font-size="22.3">20</text>
<text transform="translate(424.0,442.2) scale(1,1.05)" font-size="22.3">GeV;</text>
<text transform="translate(482.7,442.2) scale(1,1.05)" font-size="22.3">m</text>
<text transform="translate(503.2,448.4) scale(1,1.05)" font-size="18.4">H</text>
<text transform="translate(517.6,439.3) scale(1,1.05)" font-size="14.4">0</text>
<text transform="translate(532.4,444.5) scale(1,1.05)" font-size="22.3">=</text>
<text transform="translate(552.2,442.2) scale(1,1.05)" font-size="22.3">200</text>
<text transform="translate(597.4,442.2) scale(1,1.05)" font-size="22.3">GeV</text>
<text transform="translate(323.7,469.5) scale(1,1.05)" font-size="22.3">m</text>
<text transform="translate(343.3,475.7) scale(1,1.05)" font-size="18.4">S</text>
<text transform="translate(356.6,466.6) scale(1,1.05)" font-size="14.4">0</text>
<text transform="translate(372.3,471.8) scale(1,1.05)" font-size="22.3">=</text>
<text transform="translate(392.4,469.5) scale(1,1.05)" font-size="22.3">10</text>
<text transform="translate(424.0,469.5) scale(1,1.05)" font-size="22.3">GeV;</text>
<text transform="translate(482.7,469.5) scale(1,1.05)" font-size="22.3">m</text>
<text transform="translate(503.2,475.7) scale(1,1.05)" font-size="18.4">H</text>
<text transform="translate(517.6,466.6) scale(1,1.05)" font-size="14.4">0</text>
<text transform="translate(532.4,471.8) scale(1,1.05)" font-size="22.3">=</text>
<text transform="translate(552.2,469.5) scale(1,1.05)" font-size="22.3">200</text>
<text transform="translate(597.4,469.5) scale(1,1.05)" font-size="22.3">GeV</text>
<text transform="translate(323.7,496.6) scale(1,1.05)" font-size="22.3">m</text>
<text transform="translate(343.3,502.8) scale(1,1.05)" font-size="18.4">S</text>
<text transform="translate(356.6,493.7) scale(1,1.05)" font-size="14.4">0</text>
<text transform="translate(372.3,498.9) scale(1,1.05)" font-size="22.3">=</text>
<text transform="translate(392.4,496.6) scale(1,1.05)" font-size="22.3">20</text>
<text transform="translate(424.0,496.6) scale(1,1.05)" font-size="22.3">GeV;</text>
<text transform="translate(482.7,496.6) scale(1,1.05)" font-size="22.3">m</text>
<text transform="translate(503.2,502.8) scale(1,1.05)" font-size="18.4">H</text>
<text transform="translate(517.6,493.7) scale(1,1.05)" font-size="14.4">0</text>
<text transform="translate(532.4,498.9) scale(1,1.05)" font-size="22.3">=</text>
<text transform="translate(552.2,496.6) scale(1,1.05)" font-size="22.3">400</text>
<text transform="translate(597.4,496.6) scale(1,1.05)" font-size="22.3">GeV</text>
<clipPath id="lg"><rect x="658.1999999999999" y="403.4" width="59.600000000000094" height="11"/></clipPath>
<rect x="656.5" y="401.7" width="63.00000000000009" height="14.4" fill="#fff" stroke="#006400" stroke-width="3.4"/>
<path clip-path="url(#lg)" d="M632.7 398.9L652.7 418.9M632.7 418.9L652.7 398.9M645.7 398.9L665.7 418.9M645.7 418.9L665.7 398.9M658.7 398.9L678.7 418.9M658.7 418.9L678.7 398.9M671.7 398.9L691.7 418.9M671.7 418.9L691.7 398.9M684.7 398.9L704.7 418.9M684.7 418.9L704.7 398.9M697.7 398.9L717.7 418.9M697.7 418.9L717.7 398.9M710.7 398.9L730.7 418.9M710.7 418.9L730.7 398.9M723.7 398.9L743.7 418.9M723.7 418.9L743.7 398.9M736.7 398.9L756.7 418.9M736.7 418.9L756.7 398.9M749.7 398.9L769.7 418.9M749.7 418.9L769.7 398.9" stroke="#006400" stroke-width="2.5" fill="none"/>
<rect x="654.8" y="428" width="66.40000000000009" height="17.4" fill="#ff00ff"/>
<path d="M661.98 431.20l1.8 1.8l-1.8 1.8l-1.8 -1.8zM668.51 431.20l1.8 1.8l-1.8 1.8l-1.8 -1.8zM675.04 431.20l1.8 1.8l-1.8 1.8l-1.8 -1.8zM681.57 431.20l1.8 1.8l-1.8 1.8l-1.8 -1.8zM688.10 431.20l1.8 1.8l-1.8 1.8l-1.8 -1.8zM694.63 431.20l1.8 1.8l-1.8 1.8l-1.8 -1.8zM701.16 431.20l1.8 1.8l-1.8 1.8l-1.8 -1.8zM707.69 431.20l1.8 1.8l-1.8 1.8l-1.8 -1.8zM714.22 431.20l1.8 1.8l-1.8 1.8l-1.8 -1.8zM665.25 434.60l1.8 1.8l-1.8 1.8l-1.8 -1.8zM671.78 434.60l1.8 1.8l-1.8 1.8l-1.8 -1.8zM678.31 434.60l1.8 1.8l-1.8 1.8l-1.8 -1.8zM684.84 434.60l1.8 1.8l-1.8 1.8l-1.8 -1.8zM691.37 434.60l1.8 1.8l-1.8 1.8l-1.8 -1.8zM697.90 434.60l1.8 1.8l-1.8 1.8l-1.8 -1.8zM704.43 434.60l1.8 1.8l-1.8 1.8l-1.8 -1.8zM710.96 434.60l1.8 1.8l-1.8 1.8l-1.8 -1.8zM717.49 434.60l1.8 1.8l-1.8 1.8l-1.8 -1.8zM661.98 438.00l1.8 1.8l-1.8 1.8l-1.8 -1.8zM668.51 438.00l1.8 1.8l-1.8 1.8l-1.8 -1.8zM675.04 438.00l1.8 1.8l-1.8 1.8l-1.8 -1.8zM681.57 438.00l1.8 1.8l-1.8 1.8l-1.8 -1.8zM688.10 438.00l1.8 1.8l-1.8 1.8l-1.8 -1.8zM694.63 438.00l1.8 1.8l-1.8 1.8l-1.8 -1.8zM701.16 438.00l1.8 1.8l-1.8 1.8l-1.8 -1.8zM707.69 438.00l1.8 1.8l-1.8 1.8l-1.8 -1.8zM714.22 438.00l1.8 1.8l-1.8 1.8l-1.8 -1.8z" fill="#fff"/>
<rect x="654.8" y="455.8" width="66.40000000000009" height="17.2" fill="#87cefa"/>
<clipPath id="lk"><rect x="658.1999999999999" y="486.6" width="59.600000000000094" height="10.6"/></clipPath>
<rect x="656.5" y="484.9" width="63.00000000000009" height="14" fill="#fff" stroke="#000" stroke-width="3.4"/>
<path clip-path="url(#lk)" d="M632.9 481.6L653.9 502.6M645.9 481.6L666.9 502.6M658.9 481.6L679.9 502.6M671.9 481.6L692.9 502.6M684.9 481.6L705.9 502.6M697.9 481.6L718.9 502.6M710.9 481.6L731.9 502.6M723.9 481.6L744.9 502.6M736.9 481.6L757.9 502.6M749.9 481.6L770.9 502.6" stroke="#000" stroke-width="2" fill="none"/>
</svg>
</body></html>
